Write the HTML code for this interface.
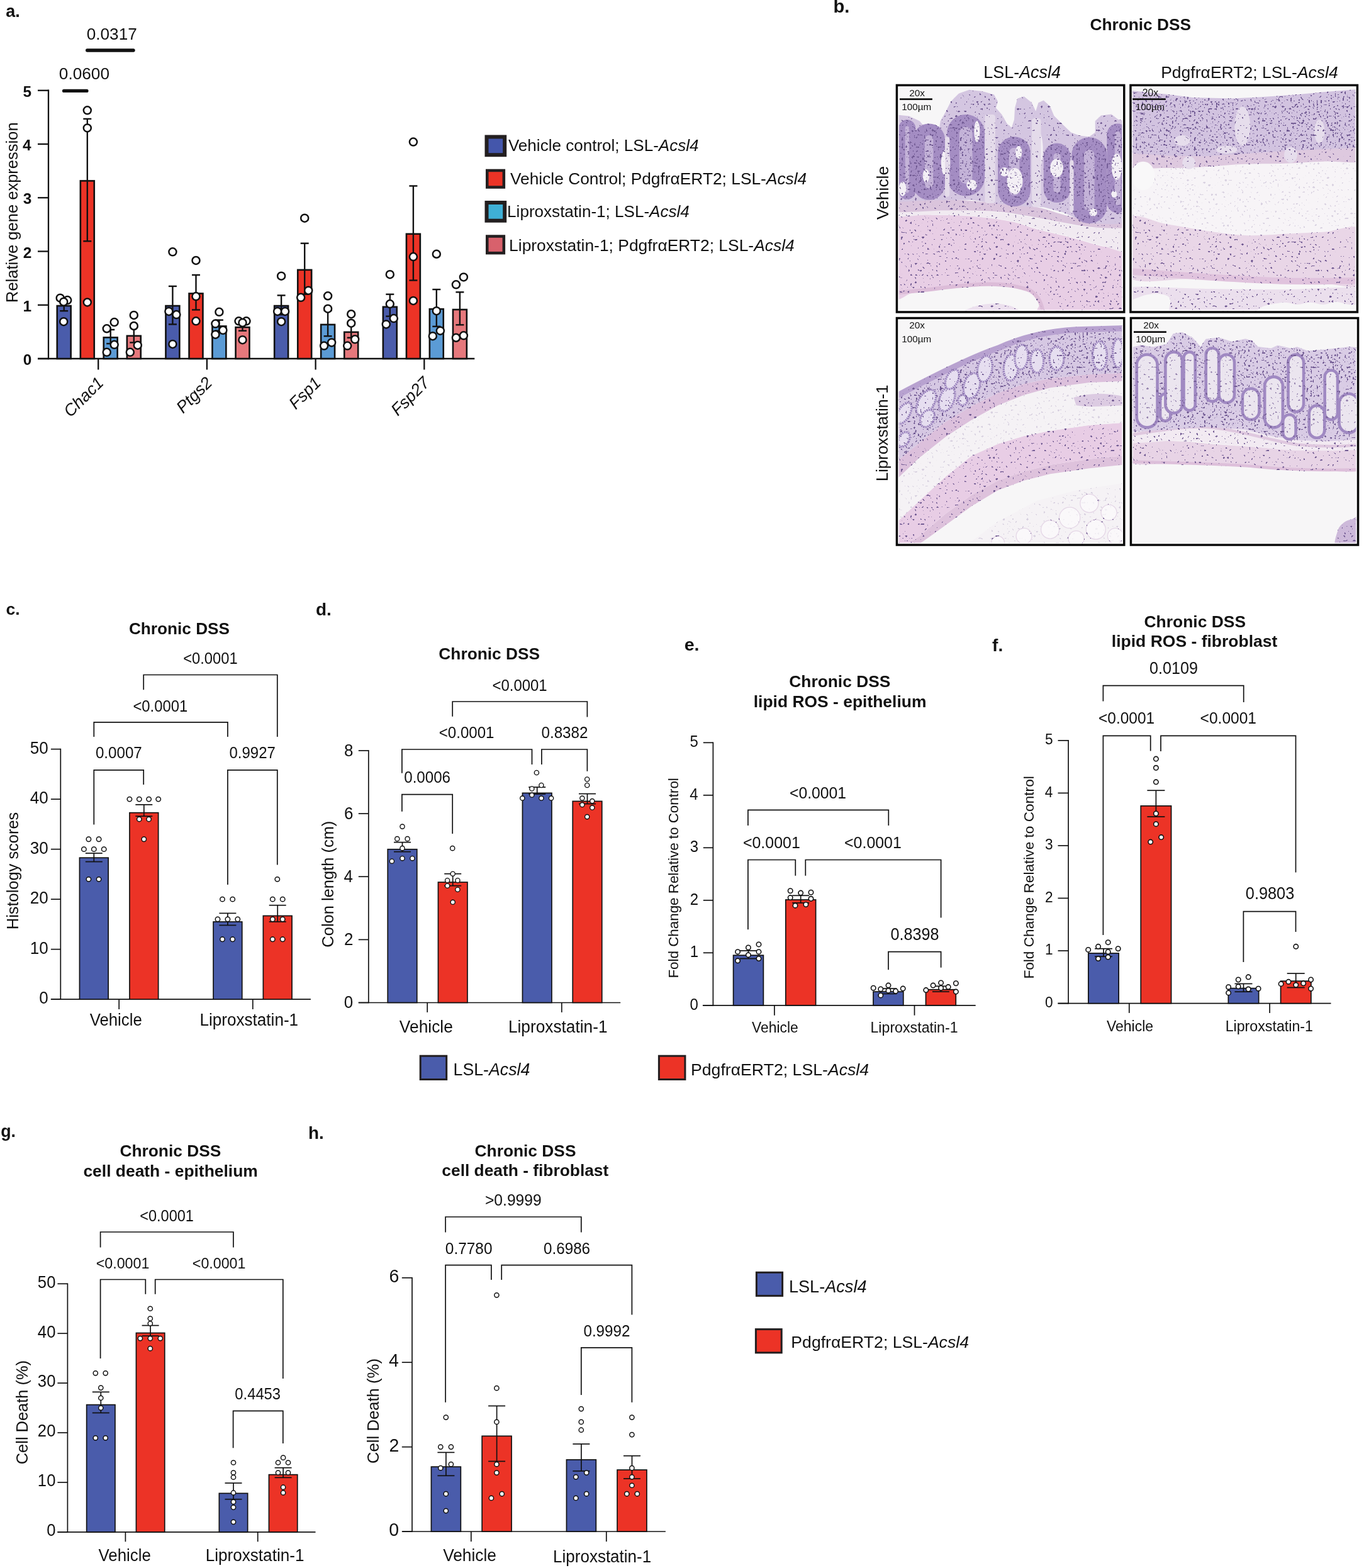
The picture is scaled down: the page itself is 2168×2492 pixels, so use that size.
<!DOCTYPE html>
<html><head><meta charset="utf-8"><style>
html,body{margin:0;padding:0;background:#fff;}
svg{display:block;}
text{font-family:"Liberation Sans",Arial,sans-serif;fill:#111;}
</style></head><body>
<svg width="2168" height="2492" viewBox="0 0 2168 2492">
<rect width="2168" height="2492" fill="#fff"/>
<text x="9.19" y="27.20" font-size="27.03" font-weight="bold">a.</text>
<line x1="60.00" y1="570.00" x2="754.30" y2="570.00" stroke="#111" stroke-width="2.30" stroke-linecap="butt"/>
<line x1="156.20" y1="570.00" x2="156.20" y2="587.50" stroke="#111" stroke-width="2.30" stroke-linecap="butt"/>
<line x1="328.90" y1="570.00" x2="328.90" y2="587.50" stroke="#111" stroke-width="2.30" stroke-linecap="butt"/>
<line x1="501.60" y1="570.00" x2="501.60" y2="587.50" stroke="#111" stroke-width="2.30" stroke-linecap="butt"/>
<line x1="674.30" y1="570.00" x2="674.30" y2="587.50" stroke="#111" stroke-width="2.30" stroke-linecap="butt"/>
<rect x="90.75" y="486.05" width="21.90" height="83.95" fill="#4a5cab" stroke="#111" stroke-width="2.60"/>
<rect x="127.85" y="287.42" width="21.90" height="282.58" fill="#ec3326" stroke="#111" stroke-width="2.60"/>
<rect x="164.75" y="536.35" width="21.90" height="33.65" fill="#5b9bd5" stroke="#111" stroke-width="2.60"/>
<rect x="201.85" y="533.79" width="21.90" height="36.21" fill="#e6787c" stroke="#111" stroke-width="2.60"/>
<line x1="101.70" y1="475.37" x2="101.70" y2="494.13" stroke="#111" stroke-width="2.40" stroke-linecap="butt"/>
<line x1="95.20" y1="475.37" x2="108.20" y2="475.37" stroke="#111" stroke-width="2.40" stroke-linecap="butt"/>
<line x1="95.20" y1="494.13" x2="108.20" y2="494.13" stroke="#111" stroke-width="2.40" stroke-linecap="butt"/>
<circle cx="95.70" cy="473.67" r="6.00" fill="#fff" stroke="#111" stroke-width="2.50"/>
<circle cx="107.20" cy="477.08" r="6.00" fill="#fff" stroke="#111" stroke-width="2.50"/>
<circle cx="101.20" cy="479.63" r="6.00" fill="#fff" stroke="#111" stroke-width="2.50"/>
<circle cx="101.20" cy="511.18" r="6.00" fill="#fff" stroke="#111" stroke-width="2.50"/>
<line x1="138.80" y1="188.93" x2="138.80" y2="383.30" stroke="#111" stroke-width="2.40" stroke-linecap="butt"/>
<line x1="132.30" y1="188.93" x2="145.30" y2="188.93" stroke="#111" stroke-width="2.40" stroke-linecap="butt"/>
<line x1="132.30" y1="383.30" x2="145.30" y2="383.30" stroke="#111" stroke-width="2.40" stroke-linecap="butt"/>
<circle cx="138.80" cy="175.29" r="6.00" fill="#fff" stroke="#111" stroke-width="2.50"/>
<circle cx="138.80" cy="203.43" r="6.00" fill="#fff" stroke="#111" stroke-width="2.50"/>
<circle cx="138.80" cy="480.49" r="6.00" fill="#fff" stroke="#111" stroke-width="2.50"/>
<line x1="175.70" y1="523.97" x2="175.70" y2="546.13" stroke="#111" stroke-width="2.40" stroke-linecap="butt"/>
<line x1="169.20" y1="523.97" x2="182.20" y2="523.97" stroke="#111" stroke-width="2.40" stroke-linecap="butt"/>
<line x1="169.20" y1="546.13" x2="182.20" y2="546.13" stroke="#111" stroke-width="2.40" stroke-linecap="butt"/>
<circle cx="169.70" cy="522.26" r="6.00" fill="#fff" stroke="#111" stroke-width="2.50"/>
<circle cx="181.70" cy="512.03" r="6.00" fill="#fff" stroke="#111" stroke-width="2.50"/>
<circle cx="181.70" cy="547.84" r="6.00" fill="#fff" stroke="#111" stroke-width="2.50"/>
<circle cx="169.70" cy="559.77" r="6.00" fill="#fff" stroke="#111" stroke-width="2.50"/>
<line x1="212.80" y1="519.70" x2="212.80" y2="544.42" stroke="#111" stroke-width="2.40" stroke-linecap="butt"/>
<line x1="206.30" y1="519.70" x2="219.30" y2="519.70" stroke="#111" stroke-width="2.40" stroke-linecap="butt"/>
<line x1="206.30" y1="544.42" x2="219.30" y2="544.42" stroke="#111" stroke-width="2.40" stroke-linecap="butt"/>
<circle cx="212.80" cy="500.95" r="6.00" fill="#fff" stroke="#111" stroke-width="2.50"/>
<circle cx="212.80" cy="518.00" r="6.00" fill="#fff" stroke="#111" stroke-width="2.50"/>
<circle cx="218.80" cy="548.69" r="6.00" fill="#fff" stroke="#111" stroke-width="2.50"/>
<circle cx="206.80" cy="559.77" r="6.00" fill="#fff" stroke="#111" stroke-width="2.50"/>
<rect x="263.45" y="486.05" width="21.90" height="83.95" fill="#4a5cab" stroke="#111" stroke-width="2.60"/>
<rect x="300.55" y="466.44" width="21.90" height="103.56" fill="#ec3326" stroke="#111" stroke-width="2.60"/>
<rect x="337.45" y="518.44" width="21.90" height="51.56" fill="#5b9bd5" stroke="#111" stroke-width="2.60"/>
<rect x="374.55" y="520.15" width="21.90" height="49.85" fill="#e6787c" stroke="#111" stroke-width="2.60"/>
<line x1="274.40" y1="454.91" x2="274.40" y2="515.44" stroke="#111" stroke-width="2.40" stroke-linecap="butt"/>
<line x1="267.90" y1="454.91" x2="280.90" y2="454.91" stroke="#111" stroke-width="2.40" stroke-linecap="butt"/>
<line x1="267.90" y1="515.44" x2="280.90" y2="515.44" stroke="#111" stroke-width="2.40" stroke-linecap="butt"/>
<circle cx="274.40" cy="400.35" r="6.00" fill="#fff" stroke="#111" stroke-width="2.50"/>
<circle cx="268.40" cy="494.98" r="6.00" fill="#fff" stroke="#111" stroke-width="2.50"/>
<circle cx="280.40" cy="500.10" r="6.00" fill="#fff" stroke="#111" stroke-width="2.50"/>
<circle cx="274.40" cy="546.98" r="6.00" fill="#fff" stroke="#111" stroke-width="2.50"/>
<line x1="311.50" y1="437.01" x2="311.50" y2="492.42" stroke="#111" stroke-width="2.40" stroke-linecap="butt"/>
<line x1="305.00" y1="437.01" x2="318.00" y2="437.01" stroke="#111" stroke-width="2.40" stroke-linecap="butt"/>
<line x1="305.00" y1="492.42" x2="318.00" y2="492.42" stroke="#111" stroke-width="2.40" stroke-linecap="butt"/>
<circle cx="311.50" cy="413.99" r="6.00" fill="#fff" stroke="#111" stroke-width="2.50"/>
<circle cx="311.50" cy="471.11" r="6.00" fill="#fff" stroke="#111" stroke-width="2.50"/>
<circle cx="311.50" cy="510.32" r="6.00" fill="#fff" stroke="#111" stroke-width="2.50"/>
<line x1="348.40" y1="508.62" x2="348.40" y2="525.67" stroke="#111" stroke-width="2.40" stroke-linecap="butt"/>
<line x1="341.90" y1="508.62" x2="354.90" y2="508.62" stroke="#111" stroke-width="2.40" stroke-linecap="butt"/>
<line x1="341.90" y1="525.67" x2="354.90" y2="525.67" stroke="#111" stroke-width="2.40" stroke-linecap="butt"/>
<circle cx="348.40" cy="495.83" r="6.00" fill="#fff" stroke="#111" stroke-width="2.50"/>
<circle cx="342.40" cy="514.59" r="6.00" fill="#fff" stroke="#111" stroke-width="2.50"/>
<circle cx="354.40" cy="524.82" r="6.00" fill="#fff" stroke="#111" stroke-width="2.50"/>
<circle cx="342.40" cy="531.64" r="6.00" fill="#fff" stroke="#111" stroke-width="2.50"/>
<line x1="385.50" y1="512.03" x2="385.50" y2="525.67" stroke="#111" stroke-width="2.40" stroke-linecap="butt"/>
<line x1="379.00" y1="512.03" x2="392.00" y2="512.03" stroke="#111" stroke-width="2.40" stroke-linecap="butt"/>
<line x1="379.00" y1="525.67" x2="392.00" y2="525.67" stroke="#111" stroke-width="2.40" stroke-linecap="butt"/>
<circle cx="379.50" cy="510.32" r="6.00" fill="#fff" stroke="#111" stroke-width="2.50"/>
<circle cx="391.50" cy="510.32" r="6.00" fill="#fff" stroke="#111" stroke-width="2.50"/>
<circle cx="385.50" cy="512.88" r="6.00" fill="#fff" stroke="#111" stroke-width="2.50"/>
<circle cx="385.50" cy="540.16" r="6.00" fill="#fff" stroke="#111" stroke-width="2.50"/>
<rect x="436.15" y="486.05" width="21.90" height="83.95" fill="#4a5cab" stroke="#111" stroke-width="2.60"/>
<rect x="473.25" y="428.93" width="21.90" height="141.07" fill="#ec3326" stroke="#111" stroke-width="2.60"/>
<rect x="510.15" y="515.89" width="21.90" height="54.11" fill="#5b9bd5" stroke="#111" stroke-width="2.60"/>
<rect x="547.25" y="527.82" width="21.90" height="42.18" fill="#e6787c" stroke="#111" stroke-width="2.60"/>
<line x1="447.10" y1="469.40" x2="447.10" y2="500.10" stroke="#111" stroke-width="2.40" stroke-linecap="butt"/>
<line x1="440.60" y1="469.40" x2="453.60" y2="469.40" stroke="#111" stroke-width="2.40" stroke-linecap="butt"/>
<line x1="440.60" y1="500.10" x2="453.60" y2="500.10" stroke="#111" stroke-width="2.40" stroke-linecap="butt"/>
<circle cx="447.10" cy="438.72" r="6.00" fill="#fff" stroke="#111" stroke-width="2.50"/>
<circle cx="441.10" cy="494.98" r="6.00" fill="#fff" stroke="#111" stroke-width="2.50"/>
<circle cx="453.10" cy="494.98" r="6.00" fill="#fff" stroke="#111" stroke-width="2.50"/>
<circle cx="447.10" cy="511.18" r="6.00" fill="#fff" stroke="#111" stroke-width="2.50"/>
<line x1="484.20" y1="386.71" x2="484.20" y2="467.70" stroke="#111" stroke-width="2.40" stroke-linecap="butt"/>
<line x1="477.70" y1="386.71" x2="490.70" y2="386.71" stroke="#111" stroke-width="2.40" stroke-linecap="butt"/>
<line x1="477.70" y1="467.70" x2="490.70" y2="467.70" stroke="#111" stroke-width="2.40" stroke-linecap="butt"/>
<circle cx="484.20" cy="346.64" r="6.00" fill="#fff" stroke="#111" stroke-width="2.50"/>
<circle cx="490.20" cy="461.73" r="6.00" fill="#fff" stroke="#111" stroke-width="2.50"/>
<circle cx="478.20" cy="472.81" r="6.00" fill="#fff" stroke="#111" stroke-width="2.50"/>
<line x1="521.10" y1="493.27" x2="521.10" y2="534.20" stroke="#111" stroke-width="2.40" stroke-linecap="butt"/>
<line x1="514.60" y1="493.27" x2="527.60" y2="493.27" stroke="#111" stroke-width="2.40" stroke-linecap="butt"/>
<line x1="514.60" y1="534.20" x2="527.60" y2="534.20" stroke="#111" stroke-width="2.40" stroke-linecap="butt"/>
<circle cx="521.10" cy="470.26" r="6.00" fill="#fff" stroke="#111" stroke-width="2.50"/>
<circle cx="521.10" cy="490.72" r="6.00" fill="#fff" stroke="#111" stroke-width="2.50"/>
<circle cx="527.10" cy="544.42" r="6.00" fill="#fff" stroke="#111" stroke-width="2.50"/>
<circle cx="515.10" cy="549.54" r="6.00" fill="#fff" stroke="#111" stroke-width="2.50"/>
<line x1="558.20" y1="514.59" x2="558.20" y2="536.75" stroke="#111" stroke-width="2.40" stroke-linecap="butt"/>
<line x1="551.70" y1="514.59" x2="564.70" y2="514.59" stroke="#111" stroke-width="2.40" stroke-linecap="butt"/>
<line x1="551.70" y1="536.75" x2="564.70" y2="536.75" stroke="#111" stroke-width="2.40" stroke-linecap="butt"/>
<circle cx="558.20" cy="499.24" r="6.00" fill="#fff" stroke="#111" stroke-width="2.50"/>
<circle cx="558.20" cy="513.74" r="6.00" fill="#fff" stroke="#111" stroke-width="2.50"/>
<circle cx="564.20" cy="539.31" r="6.00" fill="#fff" stroke="#111" stroke-width="2.50"/>
<circle cx="552.20" cy="549.54" r="6.00" fill="#fff" stroke="#111" stroke-width="2.50"/>
<rect x="608.85" y="487.75" width="21.90" height="82.25" fill="#4a5cab" stroke="#111" stroke-width="2.60"/>
<rect x="645.95" y="371.81" width="21.90" height="198.19" fill="#ec3326" stroke="#111" stroke-width="2.60"/>
<rect x="682.85" y="491.17" width="21.90" height="78.83" fill="#5b9bd5" stroke="#111" stroke-width="2.60"/>
<rect x="719.95" y="492.02" width="21.90" height="77.98" fill="#e6787c" stroke="#111" stroke-width="2.60"/>
<line x1="619.80" y1="467.70" x2="619.80" y2="502.65" stroke="#111" stroke-width="2.40" stroke-linecap="butt"/>
<line x1="613.30" y1="467.70" x2="626.30" y2="467.70" stroke="#111" stroke-width="2.40" stroke-linecap="butt"/>
<line x1="613.30" y1="502.65" x2="626.30" y2="502.65" stroke="#111" stroke-width="2.40" stroke-linecap="butt"/>
<circle cx="619.80" cy="436.16" r="6.00" fill="#fff" stroke="#111" stroke-width="2.50"/>
<circle cx="619.80" cy="483.05" r="6.00" fill="#fff" stroke="#111" stroke-width="2.50"/>
<circle cx="625.80" cy="506.06" r="6.00" fill="#fff" stroke="#111" stroke-width="2.50"/>
<circle cx="613.80" cy="515.44" r="6.00" fill="#fff" stroke="#111" stroke-width="2.50"/>
<line x1="656.90" y1="295.50" x2="656.90" y2="445.53" stroke="#111" stroke-width="2.40" stroke-linecap="butt"/>
<line x1="650.40" y1="295.50" x2="663.40" y2="295.50" stroke="#111" stroke-width="2.40" stroke-linecap="butt"/>
<line x1="650.40" y1="445.53" x2="663.40" y2="445.53" stroke="#111" stroke-width="2.40" stroke-linecap="butt"/>
<circle cx="656.90" cy="225.59" r="6.00" fill="#fff" stroke="#111" stroke-width="2.50"/>
<circle cx="656.90" cy="408.02" r="6.00" fill="#fff" stroke="#111" stroke-width="2.50"/>
<circle cx="656.90" cy="477.93" r="6.00" fill="#fff" stroke="#111" stroke-width="2.50"/>
<line x1="693.80" y1="460.03" x2="693.80" y2="518.85" stroke="#111" stroke-width="2.40" stroke-linecap="butt"/>
<line x1="687.30" y1="460.03" x2="700.30" y2="460.03" stroke="#111" stroke-width="2.40" stroke-linecap="butt"/>
<line x1="687.30" y1="518.85" x2="700.30" y2="518.85" stroke="#111" stroke-width="2.40" stroke-linecap="butt"/>
<circle cx="693.80" cy="403.76" r="6.00" fill="#fff" stroke="#111" stroke-width="2.50"/>
<circle cx="693.80" cy="494.13" r="6.00" fill="#fff" stroke="#111" stroke-width="2.50"/>
<circle cx="699.80" cy="525.67" r="6.00" fill="#fff" stroke="#111" stroke-width="2.50"/>
<circle cx="687.80" cy="534.20" r="6.00" fill="#fff" stroke="#111" stroke-width="2.50"/>
<line x1="730.90" y1="464.29" x2="730.90" y2="516.29" stroke="#111" stroke-width="2.40" stroke-linecap="butt"/>
<line x1="724.40" y1="464.29" x2="737.40" y2="464.29" stroke="#111" stroke-width="2.40" stroke-linecap="butt"/>
<line x1="724.40" y1="516.29" x2="737.40" y2="516.29" stroke="#111" stroke-width="2.40" stroke-linecap="butt"/>
<circle cx="736.90" cy="440.42" r="6.00" fill="#fff" stroke="#111" stroke-width="2.50"/>
<circle cx="724.90" cy="452.36" r="6.00" fill="#fff" stroke="#111" stroke-width="2.50"/>
<circle cx="736.90" cy="533.34" r="6.00" fill="#fff" stroke="#111" stroke-width="2.50"/>
<circle cx="724.90" cy="536.75" r="6.00" fill="#fff" stroke="#111" stroke-width="2.50"/>
<line x1="77.00" y1="142.60" x2="77.00" y2="571.15" stroke="#111" stroke-width="2.30" stroke-linecap="butt"/>
<line x1="60.00" y1="570.00" x2="77.00" y2="570.00" stroke="#111" stroke-width="2.30" stroke-linecap="butt"/>
<text x="36.81" y="580.12" font-size="24.40" font-weight="bold">0</text>
<line x1="60.00" y1="484.75" x2="77.00" y2="484.75" stroke="#111" stroke-width="2.30" stroke-linecap="butt"/>
<text x="36.57" y="494.87" font-size="24.40" font-weight="bold">1</text>
<line x1="60.00" y1="399.50" x2="77.00" y2="399.50" stroke="#111" stroke-width="2.30" stroke-linecap="butt"/>
<text x="36.81" y="409.74" font-size="24.40" font-weight="bold">2</text>
<line x1="60.00" y1="314.25" x2="77.00" y2="314.25" stroke="#111" stroke-width="2.30" stroke-linecap="butt"/>
<text x="36.81" y="324.37" font-size="24.40" font-weight="bold">3</text>
<line x1="60.00" y1="229.00" x2="77.00" y2="229.00" stroke="#111" stroke-width="2.30" stroke-linecap="butt"/>
<text x="36.08" y="239.12" font-size="24.40" font-weight="bold">4</text>
<line x1="60.00" y1="143.75" x2="77.00" y2="143.75" stroke="#111" stroke-width="2.30" stroke-linecap="butt"/>
<text x="36.57" y="153.75" font-size="24.40" font-weight="bold">5</text>
<line x1="101.60" y1="144.40" x2="137.90" y2="144.40" stroke="#111" stroke-width="5.40" stroke-linecap="round"/>
<line x1="138.70" y1="80.00" x2="212.00" y2="80.00" stroke="#111" stroke-width="5.40" stroke-linecap="round"/>
<text x="93.85" y="126.00" font-size="26.21">0.0600</text>
<text x="137.75" y="63.00" font-size="26.16">0.0317</text>
<text transform="translate(27.99 481.04) rotate(-90)" x="0" y="0" font-size="25.54">Relative gene expression</text>
<text transform="translate(166.20 610) rotate(-45)" x="0" y="0" font-size="26.5" font-style="italic" text-anchor="end">Chac1</text>
<text transform="translate(338.90 610) rotate(-45)" x="0" y="0" font-size="26.5" font-style="italic" text-anchor="end">Ptgs2</text>
<text transform="translate(511.60 610) rotate(-45)" x="0" y="0" font-size="26.5" font-style="italic" text-anchor="end">Fsp1</text>
<text transform="translate(684.30 610) rotate(-45)" x="0" y="0" font-size="26.5" font-style="italic" text-anchor="end">Fsp27</text>
<rect x="773.50" y="217.50" width="28.70" height="28.70" fill="#4456ab" stroke="#231f20" stroke-width="6.00"/>
<text x="807.94" y="240.00" font-size="26.05">Vehicle control; LSL-<tspan font-style="italic">Acsl4</tspan></text>
<rect x="774.25" y="270.95" width="26.60" height="26.60" fill="#ec3326" stroke="#231f20" stroke-width="4.50"/>
<text x="810.94" y="293.40" font-size="26.34">Vehicle Control; PdgfrαERT2; LSL-<tspan font-style="italic">Acsl4</tspan></text>
<rect x="773.50" y="322.00" width="28.70" height="28.70" fill="#3fb0d6" stroke="#231f20" stroke-width="6.00"/>
<text x="806.11" y="344.60" font-size="26.07">Liproxstatin-1; LSL-<tspan font-style="italic">Acsl4</tspan></text>
<rect x="774.25" y="375.55" width="26.60" height="26.60" fill="#d8616c" stroke="#231f20" stroke-width="4.50"/>
<text x="809.09" y="398.90" font-size="26.41">Liproxstatin-1; PdgfrαERT2; LSL-<tspan font-style="italic">Acsl4</tspan></text>
<line x1="80.90" y1="1588.20" x2="493.90" y2="1588.20" stroke="#111" stroke-width="1.70" stroke-linecap="butt"/>
<line x1="189.20" y1="1588.20" x2="189.20" y2="1604.00" stroke="#111" stroke-width="1.70" stroke-linecap="butt"/>
<line x1="401.80" y1="1588.20" x2="401.80" y2="1604.00" stroke="#111" stroke-width="1.70" stroke-linecap="butt"/>
<rect x="126.45" y="1363.21" width="45.70" height="224.99" fill="#4a5cab" stroke="#111" stroke-width="1.70"/>
<rect x="205.95" y="1291.65" width="45.70" height="296.55" fill="#ec3326" stroke="#111" stroke-width="1.70"/>
<rect x="339.05" y="1465.00" width="45.70" height="123.20" fill="#4a5cab" stroke="#111" stroke-width="1.70"/>
<rect x="418.35" y="1455.46" width="45.70" height="132.74" fill="#ec3326" stroke="#111" stroke-width="1.70"/>
<line x1="149.30" y1="1356.00" x2="149.30" y2="1369.52" stroke="#111" stroke-width="1.70" stroke-linecap="butt"/>
<line x1="135.80" y1="1356.00" x2="162.80" y2="1356.00" stroke="#111" stroke-width="1.70" stroke-linecap="butt"/>
<line x1="135.80" y1="1369.52" x2="162.80" y2="1369.52" stroke="#111" stroke-width="1.70" stroke-linecap="butt"/>
<line x1="228.80" y1="1278.87" x2="228.80" y2="1297.16" stroke="#111" stroke-width="1.70" stroke-linecap="butt"/>
<line x1="215.30" y1="1278.87" x2="242.30" y2="1278.87" stroke="#111" stroke-width="1.70" stroke-linecap="butt"/>
<line x1="215.30" y1="1297.16" x2="242.30" y2="1297.16" stroke="#111" stroke-width="1.70" stroke-linecap="butt"/>
<line x1="361.90" y1="1451.43" x2="361.90" y2="1470.51" stroke="#111" stroke-width="1.70" stroke-linecap="butt"/>
<line x1="348.40" y1="1451.43" x2="375.40" y2="1451.43" stroke="#111" stroke-width="1.70" stroke-linecap="butt"/>
<line x1="348.40" y1="1470.51" x2="375.40" y2="1470.51" stroke="#111" stroke-width="1.70" stroke-linecap="butt"/>
<line x1="441.20" y1="1438.70" x2="441.20" y2="1464.94" stroke="#111" stroke-width="1.70" stroke-linecap="butt"/>
<line x1="427.70" y1="1438.70" x2="454.70" y2="1438.70" stroke="#111" stroke-width="1.70" stroke-linecap="butt"/>
<line x1="427.70" y1="1464.94" x2="454.70" y2="1464.94" stroke="#111" stroke-width="1.70" stroke-linecap="butt"/>
<circle cx="140.90" cy="1333.74" r="3.70" fill="#fff" stroke="#111" stroke-width="1.50"/>
<circle cx="157.10" cy="1333.74" r="3.70" fill="#fff" stroke="#111" stroke-width="1.50"/>
<circle cx="133.40" cy="1349.64" r="3.70" fill="#fff" stroke="#111" stroke-width="1.50"/>
<circle cx="149.30" cy="1349.64" r="3.70" fill="#fff" stroke="#111" stroke-width="1.50"/>
<circle cx="165.20" cy="1349.64" r="3.70" fill="#fff" stroke="#111" stroke-width="1.50"/>
<circle cx="140.90" cy="1397.35" r="3.70" fill="#fff" stroke="#111" stroke-width="1.50"/>
<circle cx="157.10" cy="1397.35" r="3.70" fill="#fff" stroke="#111" stroke-width="1.50"/>
<circle cx="205.90" cy="1270.12" r="3.70" fill="#fff" stroke="#111" stroke-width="1.50"/>
<circle cx="221.30" cy="1270.12" r="3.70" fill="#fff" stroke="#111" stroke-width="1.50"/>
<circle cx="236.60" cy="1270.12" r="3.70" fill="#fff" stroke="#111" stroke-width="1.50"/>
<circle cx="251.70" cy="1270.12" r="3.70" fill="#fff" stroke="#111" stroke-width="1.50"/>
<circle cx="221.30" cy="1301.93" r="3.70" fill="#fff" stroke="#111" stroke-width="1.50"/>
<circle cx="236.60" cy="1301.93" r="3.70" fill="#fff" stroke="#111" stroke-width="1.50"/>
<circle cx="228.80" cy="1333.74" r="3.70" fill="#fff" stroke="#111" stroke-width="1.50"/>
<circle cx="353.50" cy="1429.16" r="3.70" fill="#fff" stroke="#111" stroke-width="1.50"/>
<circle cx="369.70" cy="1429.16" r="3.70" fill="#fff" stroke="#111" stroke-width="1.50"/>
<circle cx="346.00" cy="1460.97" r="3.70" fill="#fff" stroke="#111" stroke-width="1.50"/>
<circle cx="361.90" cy="1460.97" r="3.70" fill="#fff" stroke="#111" stroke-width="1.50"/>
<circle cx="377.80" cy="1460.97" r="3.70" fill="#fff" stroke="#111" stroke-width="1.50"/>
<circle cx="353.50" cy="1492.78" r="3.70" fill="#fff" stroke="#111" stroke-width="1.50"/>
<circle cx="369.70" cy="1492.78" r="3.70" fill="#fff" stroke="#111" stroke-width="1.50"/>
<circle cx="440.80" cy="1397.35" r="3.70" fill="#fff" stroke="#111" stroke-width="1.50"/>
<circle cx="433.30" cy="1429.16" r="3.70" fill="#fff" stroke="#111" stroke-width="1.50"/>
<circle cx="449.20" cy="1429.16" r="3.70" fill="#fff" stroke="#111" stroke-width="1.50"/>
<circle cx="433.30" cy="1460.97" r="3.70" fill="#fff" stroke="#111" stroke-width="1.50"/>
<circle cx="449.20" cy="1460.97" r="3.70" fill="#fff" stroke="#111" stroke-width="1.50"/>
<circle cx="433.30" cy="1492.78" r="3.70" fill="#fff" stroke="#111" stroke-width="1.50"/>
<circle cx="449.20" cy="1492.78" r="3.70" fill="#fff" stroke="#111" stroke-width="1.50"/>
<line x1="96.30" y1="1189.75" x2="96.30" y2="1589.05" stroke="#111" stroke-width="1.70" stroke-linecap="butt"/>
<line x1="80.90" y1="1588.20" x2="96.30" y2="1588.20" stroke="#111" stroke-width="1.70" stroke-linecap="butt"/>
<text transform="translate(62.35 1595.37) scale(1 1.0650)" x="0" y="0" font-size="26.06">0</text>
<line x1="80.90" y1="1508.68" x2="96.30" y2="1508.68" stroke="#111" stroke-width="1.70" stroke-linecap="butt"/>
<text transform="translate(47.76 1515.85) scale(1 1.0650)" x="0" y="0" font-size="26.06">10</text>
<line x1="80.90" y1="1429.16" x2="96.30" y2="1429.16" stroke="#111" stroke-width="1.70" stroke-linecap="butt"/>
<text transform="translate(47.76 1436.33) scale(1 1.0650)" x="0" y="0" font-size="26.06">20</text>
<line x1="80.90" y1="1349.64" x2="96.30" y2="1349.64" stroke="#111" stroke-width="1.70" stroke-linecap="butt"/>
<text transform="translate(47.76 1356.81) scale(1 1.0650)" x="0" y="0" font-size="26.06">30</text>
<line x1="80.90" y1="1270.12" x2="96.30" y2="1270.12" stroke="#111" stroke-width="1.70" stroke-linecap="butt"/>
<text transform="translate(47.76 1277.29) scale(1 1.0650)" x="0" y="0" font-size="26.06">40</text>
<line x1="80.90" y1="1190.60" x2="96.30" y2="1190.60" stroke="#111" stroke-width="1.70" stroke-linecap="butt"/>
<text transform="translate(47.76 1197.77) scale(1 1.0650)" x="0" y="0" font-size="26.06">50</text>
<polyline points="228.20,1096.30 228.20,1072.50 440.80,1072.50 440.80,1171.00" fill="none" stroke="#111" stroke-width="1.70" stroke-linejoin="miter"/>
<text transform="translate(291.21 1055.20) scale(1 1.0650)" x="0" y="0" font-size="23.75">&lt;0.0001</text>
<polyline points="149.30,1171.00 149.30,1147.90 361.90,1147.90 361.90,1171.00" fill="none" stroke="#111" stroke-width="1.70" stroke-linejoin="miter"/>
<text transform="translate(211.41 1130.50) scale(1 1.0650)" x="0" y="0" font-size="23.83">&lt;0.0001</text>
<polyline points="149.30,1310.60 149.30,1223.80 228.20,1223.80 228.20,1247.00" fill="none" stroke="#111" stroke-width="1.70" stroke-linejoin="miter"/>
<text transform="translate(151.93 1204.50) scale(1 1.0650)" x="0" y="0" font-size="24.14">0.0007</text>
<polyline points="361.90,1406.00 361.90,1223.80 440.80,1223.80 440.80,1374.50" fill="none" stroke="#111" stroke-width="1.70" stroke-linejoin="miter"/>
<text transform="translate(364.54 1204.50) scale(1 1.0650)" x="0" y="0" font-size="23.97">0.9927</text>
<text x="204.95" y="1008.40" font-size="26.20" font-weight="bold">Chronic DSS</text>
<text x="9.54" y="977.00" font-size="26.58" font-weight="bold">c.</text>
<text transform="translate(28.91 1477.23) rotate(-90)" x="0" y="0" font-size="25.43">Histology scores</text>
<text transform="translate(142.64 1629.80) scale(1 1.0650)" x="0" y="0" font-size="25.77">Vehicle</text>
<text transform="translate(317.41 1629.80) scale(1 1.0650)" x="0" y="0" font-size="26.11">Liproxstatin-1</text>
<line x1="569.80" y1="1593.50" x2="986.20" y2="1593.50" stroke="#111" stroke-width="1.70" stroke-linecap="butt"/>
<line x1="679.20" y1="1593.50" x2="679.20" y2="1608.90" stroke="#111" stroke-width="1.70" stroke-linecap="butt"/>
<line x1="892.80" y1="1593.50" x2="892.80" y2="1608.90" stroke="#111" stroke-width="1.70" stroke-linecap="butt"/>
<rect x="616.25" y="1349.76" width="46.50" height="243.74" fill="#4a5cab" stroke="#111" stroke-width="1.70"/>
<rect x="696.45" y="1402.08" width="46.50" height="191.42" fill="#ec3326" stroke="#111" stroke-width="1.70"/>
<rect x="830.45" y="1260.38" width="46.50" height="333.12" fill="#4a5cab" stroke="#111" stroke-width="1.70"/>
<rect x="910.25" y="1273.40" width="46.50" height="320.10" fill="#ec3326" stroke="#111" stroke-width="1.70"/>
<line x1="639.50" y1="1338.64" x2="639.50" y2="1353.66" stroke="#111" stroke-width="1.70" stroke-linecap="butt"/>
<line x1="626.00" y1="1338.64" x2="653.00" y2="1338.64" stroke="#111" stroke-width="1.70" stroke-linecap="butt"/>
<line x1="626.00" y1="1353.66" x2="653.00" y2="1353.66" stroke="#111" stroke-width="1.70" stroke-linecap="butt"/>
<line x1="719.70" y1="1388.71" x2="719.70" y2="1407.74" stroke="#111" stroke-width="1.70" stroke-linecap="butt"/>
<line x1="706.20" y1="1388.71" x2="733.20" y2="1388.71" stroke="#111" stroke-width="1.70" stroke-linecap="butt"/>
<line x1="706.20" y1="1407.74" x2="733.20" y2="1407.74" stroke="#111" stroke-width="1.70" stroke-linecap="butt"/>
<line x1="853.70" y1="1251.02" x2="853.70" y2="1262.04" stroke="#111" stroke-width="1.70" stroke-linecap="butt"/>
<line x1="840.20" y1="1251.02" x2="867.20" y2="1251.02" stroke="#111" stroke-width="1.70" stroke-linecap="butt"/>
<line x1="840.20" y1="1262.04" x2="867.20" y2="1262.04" stroke="#111" stroke-width="1.70" stroke-linecap="butt"/>
<line x1="933.50" y1="1261.54" x2="933.50" y2="1277.56" stroke="#111" stroke-width="1.70" stroke-linecap="butt"/>
<line x1="920.00" y1="1261.54" x2="947.00" y2="1261.54" stroke="#111" stroke-width="1.70" stroke-linecap="butt"/>
<line x1="920.00" y1="1277.56" x2="947.00" y2="1277.56" stroke="#111" stroke-width="1.70" stroke-linecap="butt"/>
<circle cx="639.50" cy="1313.61" r="3.60" fill="#fff" stroke="#111" stroke-width="1.40"/>
<circle cx="631.30" cy="1333.14" r="3.60" fill="#fff" stroke="#111" stroke-width="1.40"/>
<circle cx="647.60" cy="1333.14" r="3.60" fill="#fff" stroke="#111" stroke-width="1.40"/>
<circle cx="639.50" cy="1348.16" r="3.60" fill="#fff" stroke="#111" stroke-width="1.40"/>
<circle cx="622.90" cy="1368.69" r="3.60" fill="#fff" stroke="#111" stroke-width="1.40"/>
<circle cx="639.50" cy="1364.18" r="3.60" fill="#fff" stroke="#111" stroke-width="1.40"/>
<circle cx="655.40" cy="1364.18" r="3.60" fill="#fff" stroke="#111" stroke-width="1.40"/>
<circle cx="719.20" cy="1348.16" r="3.60" fill="#fff" stroke="#111" stroke-width="1.40"/>
<circle cx="719.70" cy="1388.71" r="3.60" fill="#fff" stroke="#111" stroke-width="1.40"/>
<circle cx="711.10" cy="1399.23" r="3.60" fill="#fff" stroke="#111" stroke-width="1.40"/>
<circle cx="727.40" cy="1399.23" r="3.60" fill="#fff" stroke="#111" stroke-width="1.40"/>
<circle cx="711.10" cy="1407.74" r="3.60" fill="#fff" stroke="#111" stroke-width="1.40"/>
<circle cx="727.40" cy="1413.75" r="3.60" fill="#fff" stroke="#111" stroke-width="1.40"/>
<circle cx="719.70" cy="1433.78" r="3.60" fill="#fff" stroke="#111" stroke-width="1.40"/>
<circle cx="852.90" cy="1227.99" r="3.60" fill="#fff" stroke="#111" stroke-width="1.40"/>
<circle cx="860.40" cy="1248.02" r="3.60" fill="#fff" stroke="#111" stroke-width="1.40"/>
<circle cx="845.40" cy="1253.52" r="3.60" fill="#fff" stroke="#111" stroke-width="1.40"/>
<circle cx="845.40" cy="1263.54" r="3.60" fill="#fff" stroke="#111" stroke-width="1.40"/>
<circle cx="830.30" cy="1268.55" r="3.60" fill="#fff" stroke="#111" stroke-width="1.40"/>
<circle cx="860.40" cy="1268.55" r="3.60" fill="#fff" stroke="#111" stroke-width="1.40"/>
<circle cx="876.10" cy="1268.55" r="3.60" fill="#fff" stroke="#111" stroke-width="1.40"/>
<circle cx="933.20" cy="1238.50" r="3.60" fill="#fff" stroke="#111" stroke-width="1.40"/>
<circle cx="933.20" cy="1248.02" r="3.60" fill="#fff" stroke="#111" stroke-width="1.40"/>
<circle cx="925.40" cy="1268.55" r="3.60" fill="#fff" stroke="#111" stroke-width="1.40"/>
<circle cx="941.30" cy="1273.05" r="3.60" fill="#fff" stroke="#111" stroke-width="1.40"/>
<circle cx="925.40" cy="1279.06" r="3.60" fill="#fff" stroke="#111" stroke-width="1.40"/>
<circle cx="941.30" cy="1283.57" r="3.60" fill="#fff" stroke="#111" stroke-width="1.40"/>
<circle cx="933.20" cy="1298.09" r="3.60" fill="#fff" stroke="#111" stroke-width="1.40"/>
<line x1="585.80" y1="1192.09" x2="585.80" y2="1594.35" stroke="#111" stroke-width="1.70" stroke-linecap="butt"/>
<line x1="569.80" y1="1593.50" x2="585.80" y2="1593.50" stroke="#111" stroke-width="1.70" stroke-linecap="butt"/>
<text transform="translate(546.70 1602.44) scale(1 1.0650)" x="0" y="0" font-size="25.96">0</text>
<line x1="569.80" y1="1493.36" x2="585.80" y2="1493.36" stroke="#111" stroke-width="1.70" stroke-linecap="butt"/>
<text transform="translate(546.96 1502.44) scale(1 1.0650)" x="0" y="0" font-size="25.96">2</text>
<line x1="569.80" y1="1393.22" x2="585.80" y2="1393.22" stroke="#111" stroke-width="1.70" stroke-linecap="butt"/>
<text transform="translate(546.44 1402.16) scale(1 1.0650)" x="0" y="0" font-size="25.96">4</text>
<line x1="569.80" y1="1293.08" x2="585.80" y2="1293.08" stroke="#111" stroke-width="1.70" stroke-linecap="butt"/>
<text transform="translate(546.96 1302.02) scale(1 1.0650)" x="0" y="0" font-size="25.96">6</text>
<line x1="569.80" y1="1192.94" x2="585.80" y2="1192.94" stroke="#111" stroke-width="1.70" stroke-linecap="butt"/>
<text transform="translate(546.96 1201.88) scale(1 1.0650)" x="0" y="0" font-size="25.96">8</text>
<polyline points="719.20,1138.80 719.20,1115.00 933.40,1115.00 933.40,1139.60" fill="none" stroke="#111" stroke-width="1.70" stroke-linejoin="miter"/>
<text transform="translate(782.50 1097.50) scale(1 1.0650)" x="0" y="0" font-size="23.94">&lt;0.0001</text>
<polyline points="638.90,1228.70 638.90,1191.00 845.50,1191.00 845.50,1215.00" fill="none" stroke="#111" stroke-width="1.70" stroke-linejoin="miter"/>
<text transform="translate(697.80 1173.00) scale(1 1.0650)" x="0" y="0" font-size="24.08">&lt;0.0001</text>
<polyline points="860.90,1215.00 860.90,1191.00 933.40,1191.00 933.40,1225.80" fill="none" stroke="#111" stroke-width="1.70" stroke-linejoin="miter"/>
<text transform="translate(860.43 1173.00) scale(1 1.0650)" x="0" y="0" font-size="24.24">0.8382</text>
<polyline points="638.90,1289.70 638.90,1262.70 719.20,1262.70 719.20,1325.10" fill="none" stroke="#111" stroke-width="1.70" stroke-linejoin="miter"/>
<text transform="translate(642.23 1244.10) scale(1 1.0650)" x="0" y="0" font-size="24.14">0.0006</text>
<text x="697.35" y="1048.00" font-size="26.30" font-weight="bold">Chronic DSS</text>
<text x="501.88" y="977.70" font-size="27.95" font-weight="bold">d.</text>
<text transform="translate(530.14 1505.67) rotate(-90)" x="0" y="0" font-size="25.48">Colon length (cm)</text>
<text transform="translate(634.84 1641.40) scale(1 1.0650)" x="0" y="0" font-size="26.37">Vehicle</text>
<text transform="translate(807.90 1641.40) scale(1 1.0650)" x="0" y="0" font-size="26.28">Liproxstatin-1</text>
<line x1="1116.90" y1="1597.80" x2="1550.70" y2="1597.80" stroke="#111" stroke-width="1.70" stroke-linecap="butt"/>
<line x1="1230.90" y1="1597.80" x2="1230.90" y2="1613.70" stroke="#111" stroke-width="1.70" stroke-linecap="butt"/>
<line x1="1453.50" y1="1597.80" x2="1453.50" y2="1613.70" stroke="#111" stroke-width="1.70" stroke-linecap="butt"/>
<rect x="1165.60" y="1518.24" width="47.80" height="79.56" fill="#4a5cab" stroke="#111" stroke-width="1.70"/>
<rect x="1248.80" y="1429.98" width="47.80" height="167.82" fill="#ec3326" stroke="#111" stroke-width="1.70"/>
<rect x="1388.00" y="1576.10" width="47.80" height="21.70" fill="#4a5cab" stroke="#111" stroke-width="1.70"/>
<rect x="1471.50" y="1572.76" width="47.80" height="25.04" fill="#ec3326" stroke="#111" stroke-width="1.70"/>
<line x1="1189.50" y1="1510.96" x2="1189.50" y2="1523.48" stroke="#111" stroke-width="1.70" stroke-linecap="butt"/>
<line x1="1176.00" y1="1510.96" x2="1203.00" y2="1510.96" stroke="#111" stroke-width="1.70" stroke-linecap="butt"/>
<line x1="1176.00" y1="1523.48" x2="1203.00" y2="1523.48" stroke="#111" stroke-width="1.70" stroke-linecap="butt"/>
<line x1="1272.70" y1="1423.28" x2="1272.70" y2="1434.97" stroke="#111" stroke-width="1.70" stroke-linecap="butt"/>
<line x1="1259.20" y1="1423.28" x2="1286.20" y2="1423.28" stroke="#111" stroke-width="1.70" stroke-linecap="butt"/>
<line x1="1259.20" y1="1434.97" x2="1286.20" y2="1434.97" stroke="#111" stroke-width="1.70" stroke-linecap="butt"/>
<line x1="1411.90" y1="1571.08" x2="1411.90" y2="1579.43" stroke="#111" stroke-width="1.70" stroke-linecap="butt"/>
<line x1="1398.40" y1="1571.08" x2="1425.40" y2="1571.08" stroke="#111" stroke-width="1.70" stroke-linecap="butt"/>
<line x1="1398.40" y1="1579.43" x2="1425.40" y2="1579.43" stroke="#111" stroke-width="1.70" stroke-linecap="butt"/>
<line x1="1495.40" y1="1567.32" x2="1495.40" y2="1576.09" stroke="#111" stroke-width="1.70" stroke-linecap="butt"/>
<line x1="1481.90" y1="1567.32" x2="1508.90" y2="1567.32" stroke="#111" stroke-width="1.70" stroke-linecap="butt"/>
<line x1="1481.90" y1="1576.09" x2="1508.90" y2="1576.09" stroke="#111" stroke-width="1.70" stroke-linecap="butt"/>
<circle cx="1172.60" cy="1512.63" r="3.70" fill="#fff" stroke="#111" stroke-width="1.60"/>
<circle cx="1189.40" cy="1505.95" r="3.70" fill="#fff" stroke="#111" stroke-width="1.60"/>
<circle cx="1206.00" cy="1500.94" r="3.70" fill="#fff" stroke="#111" stroke-width="1.60"/>
<circle cx="1206.00" cy="1512.63" r="3.70" fill="#fff" stroke="#111" stroke-width="1.60"/>
<circle cx="1189.40" cy="1517.64" r="3.70" fill="#fff" stroke="#111" stroke-width="1.60"/>
<circle cx="1172.60" cy="1526.83" r="3.70" fill="#fff" stroke="#111" stroke-width="1.60"/>
<circle cx="1206.00" cy="1523.48" r="3.70" fill="#fff" stroke="#111" stroke-width="1.60"/>
<circle cx="1256.20" cy="1415.77" r="3.70" fill="#fff" stroke="#111" stroke-width="1.60"/>
<circle cx="1272.70" cy="1419.11" r="3.70" fill="#fff" stroke="#111" stroke-width="1.60"/>
<circle cx="1289.00" cy="1418.27" r="3.70" fill="#fff" stroke="#111" stroke-width="1.60"/>
<circle cx="1256.20" cy="1426.62" r="3.70" fill="#fff" stroke="#111" stroke-width="1.60"/>
<circle cx="1289.00" cy="1428.30" r="3.70" fill="#fff" stroke="#111" stroke-width="1.60"/>
<circle cx="1264.00" cy="1439.15" r="3.70" fill="#fff" stroke="#111" stroke-width="1.60"/>
<circle cx="1280.90" cy="1437.48" r="3.70" fill="#fff" stroke="#111" stroke-width="1.60"/>
<circle cx="1388.20" cy="1570.24" r="3.70" fill="#fff" stroke="#111" stroke-width="1.60"/>
<circle cx="1399.80" cy="1571.91" r="3.70" fill="#fff" stroke="#111" stroke-width="1.60"/>
<circle cx="1412.00" cy="1566.07" r="3.70" fill="#fff" stroke="#111" stroke-width="1.60"/>
<circle cx="1412.00" cy="1574.42" r="3.70" fill="#fff" stroke="#111" stroke-width="1.60"/>
<circle cx="1423.60" cy="1575.25" r="3.70" fill="#fff" stroke="#111" stroke-width="1.60"/>
<circle cx="1435.20" cy="1571.08" r="3.70" fill="#fff" stroke="#111" stroke-width="1.60"/>
<circle cx="1399.80" cy="1581.93" r="3.70" fill="#fff" stroke="#111" stroke-width="1.60"/>
<circle cx="1471.80" cy="1573.59" r="3.70" fill="#fff" stroke="#111" stroke-width="1.60"/>
<circle cx="1483.10" cy="1566.07" r="3.70" fill="#fff" stroke="#111" stroke-width="1.60"/>
<circle cx="1495.60" cy="1561.89" r="3.70" fill="#fff" stroke="#111" stroke-width="1.60"/>
<circle cx="1495.60" cy="1570.24" r="3.70" fill="#fff" stroke="#111" stroke-width="1.60"/>
<circle cx="1507.20" cy="1568.58" r="3.70" fill="#fff" stroke="#111" stroke-width="1.60"/>
<circle cx="1519.40" cy="1562.73" r="3.70" fill="#fff" stroke="#111" stroke-width="1.60"/>
<circle cx="1519.40" cy="1576.09" r="3.70" fill="#fff" stroke="#111" stroke-width="1.60"/>
<line x1="1133.40" y1="1179.45" x2="1133.40" y2="1598.65" stroke="#111" stroke-width="1.70" stroke-linecap="butt"/>
<line x1="1117.80" y1="1597.80" x2="1133.40" y2="1597.80" stroke="#111" stroke-width="1.70" stroke-linecap="butt"/>
<text transform="translate(1096.54 1604.50) scale(1 1.0650)" x="0" y="0" font-size="23.96">0</text>
<line x1="1117.80" y1="1514.30" x2="1133.40" y2="1514.30" stroke="#111" stroke-width="1.70" stroke-linecap="butt"/>
<text transform="translate(1096.78 1521.00) scale(1 1.0650)" x="0" y="0" font-size="23.96">1</text>
<line x1="1117.80" y1="1430.80" x2="1133.40" y2="1430.80" stroke="#111" stroke-width="1.70" stroke-linecap="butt"/>
<text transform="translate(1096.78 1437.63) scale(1 1.0650)" x="0" y="0" font-size="23.96">2</text>
<line x1="1117.80" y1="1347.30" x2="1133.40" y2="1347.30" stroke="#111" stroke-width="1.70" stroke-linecap="butt"/>
<text transform="translate(1096.78 1354.00) scale(1 1.0650)" x="0" y="0" font-size="23.96">3</text>
<line x1="1117.80" y1="1263.80" x2="1133.40" y2="1263.80" stroke="#111" stroke-width="1.70" stroke-linecap="butt"/>
<text transform="translate(1096.30 1270.50) scale(1 1.0650)" x="0" y="0" font-size="23.96">4</text>
<line x1="1117.80" y1="1180.30" x2="1133.40" y2="1180.30" stroke="#111" stroke-width="1.70" stroke-linecap="butt"/>
<text transform="translate(1096.54 1186.88) scale(1 1.0650)" x="0" y="0" font-size="23.96">5</text>
<polyline points="1188.90,1312.10 1188.90,1287.40 1412.30,1287.40 1412.30,1312.10" fill="none" stroke="#111" stroke-width="1.70" stroke-linejoin="miter"/>
<text transform="translate(1254.96 1269.40) scale(1 1.0650)" x="0" y="0" font-size="24.76">&lt;0.0001</text>
<polyline points="1188.90,1477.30 1188.90,1366.50 1264.30,1366.50 1264.30,1391.70" fill="none" stroke="#111" stroke-width="1.70" stroke-linejoin="miter"/>
<text transform="translate(1180.95 1347.50) scale(1 1.0650)" x="0" y="0" font-size="24.93">&lt;0.0001</text>
<polyline points="1280.30,1391.70 1280.30,1366.50 1495.60,1366.50 1495.60,1458.50" fill="none" stroke="#111" stroke-width="1.70" stroke-linejoin="miter"/>
<text transform="translate(1342.05 1347.50) scale(1 1.0650)" x="0" y="0" font-size="24.93">&lt;0.0001</text>
<polyline points="1412.00,1541.20 1412.00,1512.70 1495.60,1512.70 1495.60,1537.70" fill="none" stroke="#111" stroke-width="1.70" stroke-linejoin="miter"/>
<text transform="translate(1415.39 1494.10) scale(1 1.0650)" x="0" y="0" font-size="25.19">0.8398</text>
<text x="1254.25" y="1092.10" font-size="26.37" font-weight="bold">Chronic DSS</text>
<text x="1197.75" y="1124.00" font-size="26.44" font-weight="bold">lipid ROS - epithelium</text>
<text x="1087.66" y="1033.50" font-size="28.49" font-weight="bold">e.</text>
<text transform="translate(1078.42 1554.59) rotate(-90)" x="0" y="0" font-size="22.39">Fold Change Relative to Control</text>
<text transform="translate(1195.07 1641.30) scale(1 1.0650)" x="0" y="0" font-size="22.87">Vehicle</text>
<text transform="translate(1383.44 1641.30) scale(1 1.0650)" x="0" y="0" font-size="23.20">Liproxstatin-1</text>
<line x1="1681.50" y1="1594.60" x2="2115.50" y2="1594.60" stroke="#111" stroke-width="1.70" stroke-linecap="butt"/>
<line x1="1794.80" y1="1594.60" x2="1794.80" y2="1609.90" stroke="#111" stroke-width="1.70" stroke-linecap="butt"/>
<line x1="2018.10" y1="1594.60" x2="2018.10" y2="1609.90" stroke="#111" stroke-width="1.70" stroke-linecap="butt"/>
<rect x="1729.85" y="1514.99" width="48.30" height="79.61" fill="#4a5cab" stroke="#111" stroke-width="1.70"/>
<rect x="1813.25" y="1280.80" width="48.30" height="313.80" fill="#ec3326" stroke="#111" stroke-width="1.70"/>
<rect x="1952.35" y="1570.64" width="48.30" height="23.96" fill="#4a5cab" stroke="#111" stroke-width="1.70"/>
<rect x="2035.55" y="1559.19" width="48.30" height="35.41" fill="#ec3326" stroke="#111" stroke-width="1.70"/>
<line x1="1754.00" y1="1507.71" x2="1754.00" y2="1520.24" stroke="#111" stroke-width="1.70" stroke-linecap="butt"/>
<line x1="1740.00" y1="1507.71" x2="1768.00" y2="1507.71" stroke="#111" stroke-width="1.70" stroke-linecap="butt"/>
<line x1="1740.00" y1="1520.24" x2="1768.00" y2="1520.24" stroke="#111" stroke-width="1.70" stroke-linecap="butt"/>
<line x1="1837.40" y1="1256.22" x2="1837.40" y2="1298.00" stroke="#111" stroke-width="1.70" stroke-linecap="butt"/>
<line x1="1823.40" y1="1256.22" x2="1851.40" y2="1256.22" stroke="#111" stroke-width="1.70" stroke-linecap="butt"/>
<line x1="1823.40" y1="1298.00" x2="1851.40" y2="1298.00" stroke="#111" stroke-width="1.70" stroke-linecap="butt"/>
<line x1="1976.50" y1="1563.44" x2="1976.50" y2="1576.22" stroke="#111" stroke-width="1.70" stroke-linecap="butt"/>
<line x1="1962.50" y1="1563.44" x2="1990.50" y2="1563.44" stroke="#111" stroke-width="1.70" stroke-linecap="butt"/>
<line x1="1962.50" y1="1576.22" x2="1990.50" y2="1576.22" stroke="#111" stroke-width="1.70" stroke-linecap="butt"/>
<line x1="2059.70" y1="1547.06" x2="2059.70" y2="1569.53" stroke="#111" stroke-width="1.70" stroke-linecap="butt"/>
<line x1="2045.70" y1="1547.06" x2="2073.70" y2="1547.06" stroke="#111" stroke-width="1.70" stroke-linecap="butt"/>
<line x1="2045.70" y1="1569.53" x2="2073.70" y2="1569.53" stroke="#111" stroke-width="1.70" stroke-linecap="butt"/>
<circle cx="1729.70" cy="1509.38" r="3.70" fill="#fff" stroke="#111" stroke-width="1.60"/>
<circle cx="1745.60" cy="1504.37" r="3.70" fill="#fff" stroke="#111" stroke-width="1.60"/>
<circle cx="1761.20" cy="1497.68" r="3.70" fill="#fff" stroke="#111" stroke-width="1.60"/>
<circle cx="1777.20" cy="1507.71" r="3.70" fill="#fff" stroke="#111" stroke-width="1.60"/>
<circle cx="1761.20" cy="1512.72" r="3.70" fill="#fff" stroke="#111" stroke-width="1.60"/>
<circle cx="1745.60" cy="1523.58" r="3.70" fill="#fff" stroke="#111" stroke-width="1.60"/>
<circle cx="1761.20" cy="1521.08" r="3.70" fill="#fff" stroke="#111" stroke-width="1.60"/>
<circle cx="1837.40" cy="1206.09" r="3.70" fill="#fff" stroke="#111" stroke-width="1.60"/>
<circle cx="1837.40" cy="1220.30" r="3.70" fill="#fff" stroke="#111" stroke-width="1.60"/>
<circle cx="1837.40" cy="1242.85" r="3.70" fill="#fff" stroke="#111" stroke-width="1.60"/>
<circle cx="1837.40" cy="1292.98" r="3.70" fill="#fff" stroke="#111" stroke-width="1.60"/>
<circle cx="1837.40" cy="1309.69" r="3.70" fill="#fff" stroke="#111" stroke-width="1.60"/>
<circle cx="1845.70" cy="1330.58" r="3.70" fill="#fff" stroke="#111" stroke-width="1.60"/>
<circle cx="1828.70" cy="1338.10" r="3.70" fill="#fff" stroke="#111" stroke-width="1.60"/>
<circle cx="1952.60" cy="1568.70" r="3.70" fill="#fff" stroke="#111" stroke-width="1.60"/>
<circle cx="1952.60" cy="1577.89" r="3.70" fill="#fff" stroke="#111" stroke-width="1.60"/>
<circle cx="1968.20" cy="1557.00" r="3.70" fill="#fff" stroke="#111" stroke-width="1.60"/>
<circle cx="1968.20" cy="1567.86" r="3.70" fill="#fff" stroke="#111" stroke-width="1.60"/>
<circle cx="1984.20" cy="1552.82" r="3.70" fill="#fff" stroke="#111" stroke-width="1.60"/>
<circle cx="1984.20" cy="1572.04" r="3.70" fill="#fff" stroke="#111" stroke-width="1.60"/>
<circle cx="2000.10" cy="1571.21" r="3.70" fill="#fff" stroke="#111" stroke-width="1.60"/>
<circle cx="2036.10" cy="1563.69" r="3.70" fill="#fff" stroke="#111" stroke-width="1.60"/>
<circle cx="2048.00" cy="1560.34" r="3.70" fill="#fff" stroke="#111" stroke-width="1.60"/>
<circle cx="2059.80" cy="1504.37" r="3.70" fill="#fff" stroke="#111" stroke-width="1.60"/>
<circle cx="2059.80" cy="1565.36" r="3.70" fill="#fff" stroke="#111" stroke-width="1.60"/>
<circle cx="2071.70" cy="1562.85" r="3.70" fill="#fff" stroke="#111" stroke-width="1.60"/>
<circle cx="2083.60" cy="1557.00" r="3.70" fill="#fff" stroke="#111" stroke-width="1.60"/>
<circle cx="2083.60" cy="1571.21" r="3.70" fill="#fff" stroke="#111" stroke-width="1.60"/>
<line x1="1698.10" y1="1176.00" x2="1698.10" y2="1595.45" stroke="#111" stroke-width="1.70" stroke-linecap="butt"/>
<line x1="1681.50" y1="1594.60" x2="1698.10" y2="1594.60" stroke="#111" stroke-width="1.70" stroke-linecap="butt"/>
<text transform="translate(1660.89 1600.94) scale(1 1.0650)" x="0" y="0" font-size="22.71">0</text>
<line x1="1681.50" y1="1511.05" x2="1698.10" y2="1511.05" stroke="#111" stroke-width="1.70" stroke-linecap="butt"/>
<text transform="translate(1661.12 1517.39) scale(1 1.0650)" x="0" y="0" font-size="22.71">1</text>
<line x1="1681.50" y1="1427.50" x2="1698.10" y2="1427.50" stroke="#111" stroke-width="1.70" stroke-linecap="butt"/>
<text transform="translate(1661.12 1433.96) scale(1 1.0650)" x="0" y="0" font-size="22.71">2</text>
<line x1="1681.50" y1="1343.95" x2="1698.10" y2="1343.95" stroke="#111" stroke-width="1.70" stroke-linecap="butt"/>
<text transform="translate(1661.12 1350.29) scale(1 1.0650)" x="0" y="0" font-size="22.71">3</text>
<line x1="1681.50" y1="1260.40" x2="1698.10" y2="1260.40" stroke="#111" stroke-width="1.70" stroke-linecap="butt"/>
<text transform="translate(1660.66 1266.74) scale(1 1.0650)" x="0" y="0" font-size="22.71">4</text>
<line x1="1681.50" y1="1176.85" x2="1698.10" y2="1176.85" stroke="#111" stroke-width="1.70" stroke-linecap="butt"/>
<text transform="translate(1660.89 1183.07) scale(1 1.0650)" x="0" y="0" font-size="22.71">5</text>
<polyline points="1753.40,1114.40 1753.40,1089.60 1976.70,1089.60 1976.70,1116.00" fill="none" stroke="#111" stroke-width="1.70" stroke-linejoin="miter"/>
<text transform="translate(1826.99 1071.10) scale(1 1.0650)" x="0" y="0" font-size="25.15">0.0109</text>
<polyline points="1753.40,1486.00 1753.40,1169.40 1828.70,1169.40 1828.70,1193.50" fill="none" stroke="#111" stroke-width="1.70" stroke-linejoin="miter"/>
<text transform="translate(1746.08 1150.10) scale(1 1.0650)" x="0" y="0" font-size="24.48">&lt;0.0001</text>
<polyline points="1845.00,1194.00 1845.00,1169.40 2059.50,1169.40 2059.50,1386.60" fill="none" stroke="#111" stroke-width="1.70" stroke-linejoin="miter"/>
<text transform="translate(1907.57 1150.10) scale(1 1.0650)" x="0" y="0" font-size="24.56">&lt;0.0001</text>
<polyline points="1976.40,1529.10 1976.40,1448.70 2059.50,1448.70 2059.50,1480.90" fill="none" stroke="#111" stroke-width="1.70" stroke-linejoin="miter"/>
<text transform="translate(1979.79 1429.10) scale(1 1.0650)" x="0" y="0" font-size="25.35">0.9803</text>
<text x="1818.54" y="996.60" font-size="26.43" font-weight="bold">Chronic DSS</text>
<text x="1766.84" y="1027.90" font-size="26.50" font-weight="bold">lipid ROS - fibroblast</text>
<text x="1577.04" y="1034.70" font-size="28.08" font-weight="bold">f.</text>
<text transform="translate(1643.12 1555.61) rotate(-90)" x="0" y="0" font-size="22.67">Fold Change Relative to Control</text>
<text transform="translate(1758.97 1638.70) scale(1 1.0650)" x="0" y="0" font-size="23.00">Vehicle</text>
<text transform="translate(1947.64 1638.70) scale(1 1.0650)" x="0" y="0" font-size="23.21">Liproxstatin-1</text>
<line x1="91.40" y1="2434.80" x2="501.50" y2="2434.80" stroke="#111" stroke-width="1.70" stroke-linecap="butt"/>
<line x1="199.40" y1="2434.80" x2="199.40" y2="2450.20" stroke="#111" stroke-width="1.70" stroke-linecap="butt"/>
<line x1="409.70" y1="2434.80" x2="409.70" y2="2450.20" stroke="#111" stroke-width="1.70" stroke-linecap="butt"/>
<rect x="137.65" y="2232.56" width="45.30" height="202.24" fill="#4a5cab" stroke="#111" stroke-width="1.70"/>
<rect x="216.45" y="2118.47" width="45.30" height="316.33" fill="#ec3326" stroke="#111" stroke-width="1.70"/>
<rect x="348.35" y="2373.32" width="45.30" height="61.48" fill="#4a5cab" stroke="#111" stroke-width="1.70"/>
<rect x="427.45" y="2343.65" width="45.30" height="91.15" fill="#ec3326" stroke="#111" stroke-width="1.70"/>
<line x1="160.30" y1="2212.30" x2="160.30" y2="2245.44" stroke="#111" stroke-width="1.70" stroke-linecap="butt"/>
<line x1="146.80" y1="2212.30" x2="173.80" y2="2212.30" stroke="#111" stroke-width="1.70" stroke-linecap="butt"/>
<line x1="146.80" y1="2245.44" x2="173.80" y2="2245.44" stroke="#111" stroke-width="1.70" stroke-linecap="butt"/>
<line x1="239.10" y1="2106.58" x2="239.10" y2="2123.15" stroke="#111" stroke-width="1.70" stroke-linecap="butt"/>
<line x1="225.60" y1="2106.58" x2="252.60" y2="2106.58" stroke="#111" stroke-width="1.70" stroke-linecap="butt"/>
<line x1="225.60" y1="2123.15" x2="252.60" y2="2123.15" stroke="#111" stroke-width="1.70" stroke-linecap="butt"/>
<line x1="371.00" y1="2357.00" x2="371.00" y2="2382.73" stroke="#111" stroke-width="1.70" stroke-linecap="butt"/>
<line x1="357.50" y1="2357.00" x2="384.50" y2="2357.00" stroke="#111" stroke-width="1.70" stroke-linecap="butt"/>
<line x1="357.50" y1="2382.73" x2="384.50" y2="2382.73" stroke="#111" stroke-width="1.70" stroke-linecap="butt"/>
<line x1="450.10" y1="2332.70" x2="450.10" y2="2348.33" stroke="#111" stroke-width="1.70" stroke-linecap="butt"/>
<line x1="436.60" y1="2332.70" x2="463.60" y2="2332.70" stroke="#111" stroke-width="1.70" stroke-linecap="butt"/>
<line x1="436.60" y1="2348.33" x2="463.60" y2="2348.33" stroke="#111" stroke-width="1.70" stroke-linecap="butt"/>
<circle cx="151.80" cy="2182.32" r="3.60" fill="#fff" stroke="#111" stroke-width="1.50"/>
<circle cx="167.70" cy="2182.32" r="3.60" fill="#fff" stroke="#111" stroke-width="1.50"/>
<circle cx="160.30" cy="2205.60" r="3.60" fill="#fff" stroke="#111" stroke-width="1.50"/>
<circle cx="160.30" cy="2221.77" r="3.60" fill="#fff" stroke="#111" stroke-width="1.50"/>
<circle cx="160.30" cy="2237.55" r="3.60" fill="#fff" stroke="#111" stroke-width="1.50"/>
<circle cx="151.80" cy="2285.44" r="3.60" fill="#fff" stroke="#111" stroke-width="1.50"/>
<circle cx="167.70" cy="2285.44" r="3.60" fill="#fff" stroke="#111" stroke-width="1.50"/>
<circle cx="238.80" cy="2079.75" r="3.60" fill="#fff" stroke="#111" stroke-width="1.50"/>
<circle cx="238.80" cy="2095.53" r="3.60" fill="#fff" stroke="#111" stroke-width="1.50"/>
<circle cx="238.80" cy="2103.42" r="3.60" fill="#fff" stroke="#111" stroke-width="1.50"/>
<circle cx="222.90" cy="2127.09" r="3.60" fill="#fff" stroke="#111" stroke-width="1.50"/>
<circle cx="238.80" cy="2127.09" r="3.60" fill="#fff" stroke="#111" stroke-width="1.50"/>
<circle cx="254.80" cy="2127.09" r="3.60" fill="#fff" stroke="#111" stroke-width="1.50"/>
<circle cx="238.80" cy="2143.19" r="3.60" fill="#fff" stroke="#111" stroke-width="1.50"/>
<circle cx="371.00" cy="2324.50" r="3.60" fill="#fff" stroke="#111" stroke-width="1.50"/>
<circle cx="371.00" cy="2340.51" r="3.60" fill="#fff" stroke="#111" stroke-width="1.50"/>
<circle cx="371.00" cy="2347.77" r="3.60" fill="#fff" stroke="#111" stroke-width="1.50"/>
<circle cx="371.00" cy="2372.47" r="3.60" fill="#fff" stroke="#111" stroke-width="1.50"/>
<circle cx="371.00" cy="2386.91" r="3.60" fill="#fff" stroke="#111" stroke-width="1.50"/>
<circle cx="371.00" cy="2395.59" r="3.60" fill="#fff" stroke="#111" stroke-width="1.50"/>
<circle cx="371.00" cy="2418.86" r="3.60" fill="#fff" stroke="#111" stroke-width="1.50"/>
<circle cx="450.10" cy="2316.69" r="3.60" fill="#fff" stroke="#111" stroke-width="1.50"/>
<circle cx="442.00" cy="2324.50" r="3.60" fill="#fff" stroke="#111" stroke-width="1.50"/>
<circle cx="458.00" cy="2324.50" r="3.60" fill="#fff" stroke="#111" stroke-width="1.50"/>
<circle cx="442.00" cy="2340.51" r="3.60" fill="#fff" stroke="#111" stroke-width="1.50"/>
<circle cx="458.00" cy="2340.51" r="3.60" fill="#fff" stroke="#111" stroke-width="1.50"/>
<circle cx="450.10" cy="2363.71" r="3.60" fill="#fff" stroke="#111" stroke-width="1.50"/>
<circle cx="450.10" cy="2372.47" r="3.60" fill="#fff" stroke="#111" stroke-width="1.50"/>
<line x1="107.40" y1="2039.45" x2="107.40" y2="2435.65" stroke="#111" stroke-width="1.70" stroke-linecap="butt"/>
<line x1="91.40" y1="2434.80" x2="107.40" y2="2434.80" stroke="#111" stroke-width="1.70" stroke-linecap="butt"/>
<text transform="translate(74.25 2441.13) scale(1 1.0650)" x="0" y="0" font-size="25.67">0</text>
<line x1="91.40" y1="2355.90" x2="107.40" y2="2355.90" stroke="#111" stroke-width="1.70" stroke-linecap="butt"/>
<text transform="translate(59.87 2362.23) scale(1 1.0650)" x="0" y="0" font-size="25.67">10</text>
<line x1="91.40" y1="2277.00" x2="107.40" y2="2277.00" stroke="#111" stroke-width="1.70" stroke-linecap="butt"/>
<text transform="translate(59.87 2283.33) scale(1 1.0650)" x="0" y="0" font-size="25.67">20</text>
<line x1="91.40" y1="2198.10" x2="107.40" y2="2198.10" stroke="#111" stroke-width="1.70" stroke-linecap="butt"/>
<text transform="translate(59.87 2204.43) scale(1 1.0650)" x="0" y="0" font-size="25.67">30</text>
<line x1="91.40" y1="2119.20" x2="107.40" y2="2119.20" stroke="#111" stroke-width="1.70" stroke-linecap="butt"/>
<text transform="translate(59.87 2125.53) scale(1 1.0650)" x="0" y="0" font-size="25.67">40</text>
<line x1="91.40" y1="2040.30" x2="107.40" y2="2040.30" stroke="#111" stroke-width="1.70" stroke-linecap="butt"/>
<text transform="translate(59.87 2046.63) scale(1 1.0650)" x="0" y="0" font-size="25.67">50</text>
<polyline points="159.60,1982.40 159.60,1958.00 370.90,1958.00 370.90,1982.40" fill="none" stroke="#111" stroke-width="1.70" stroke-linejoin="miter"/>
<text transform="translate(222.22 1940.60) scale(1 1.0650)" x="0" y="0" font-size="23.55">&lt;0.0001</text>
<polyline points="159.60,2159.10 159.60,2033.50 231.30,2033.50 231.30,2056.70" fill="none" stroke="#111" stroke-width="1.70" stroke-linejoin="miter"/>
<text transform="translate(152.64 2016.00) scale(1 1.0650)" x="0" y="0" font-size="23.30">&lt;0.0001</text>
<polyline points="246.70,2056.70 246.70,2033.50 449.80,2033.50 449.80,2191.00" fill="none" stroke="#111" stroke-width="1.70" stroke-linejoin="miter"/>
<text transform="translate(305.84 2016.00) scale(1 1.0650)" x="0" y="0" font-size="23.21">&lt;0.0001</text>
<polyline points="370.60,2301.30 370.60,2242.40 449.80,2242.40 449.80,2294.10" fill="none" stroke="#111" stroke-width="1.70" stroke-linejoin="miter"/>
<text transform="translate(373.35 2223.80) scale(1 1.0650)" x="0" y="0" font-size="23.77">0.4453</text>
<text x="190.45" y="1838.20" font-size="26.33" font-weight="bold">Chronic DSS</text>
<text x="132.44" y="1869.50" font-size="26.42" font-weight="bold">cell death - epithelium</text>
<text x="1.23" y="1806.50" font-size="26.79" font-weight="bold">g.</text>
<text transform="translate(43.81 2327.27) rotate(-90)" x="0" y="0" font-size="25.43">Cell Death (%)</text>
<text transform="translate(156.44 2481.20) scale(1 1.0650)" x="0" y="0" font-size="25.90">Vehicle</text>
<text transform="translate(326.71 2481.20) scale(1 1.0650)" x="0" y="0" font-size="26.11">Liproxstatin-1</text>
<line x1="639.40" y1="2434.00" x2="1057.90" y2="2434.00" stroke="#111" stroke-width="1.70" stroke-linecap="butt"/>
<line x1="748.80" y1="2434.00" x2="748.80" y2="2450.00" stroke="#111" stroke-width="1.70" stroke-linecap="butt"/>
<line x1="963.80" y1="2434.00" x2="963.80" y2="2450.00" stroke="#111" stroke-width="1.70" stroke-linecap="butt"/>
<rect x="685.45" y="2331.16" width="46.90" height="102.84" fill="#4a5cab" stroke="#111" stroke-width="1.70"/>
<rect x="766.15" y="2282.31" width="46.90" height="151.69" fill="#ec3326" stroke="#111" stroke-width="1.70"/>
<rect x="900.45" y="2319.94" width="46.90" height="114.06" fill="#4a5cab" stroke="#111" stroke-width="1.70"/>
<rect x="981.05" y="2336.07" width="46.90" height="97.93" fill="#ec3326" stroke="#111" stroke-width="1.70"/>
<line x1="708.90" y1="2308.34" x2="708.90" y2="2345.30" stroke="#111" stroke-width="1.70" stroke-linecap="butt"/>
<line x1="695.40" y1="2308.34" x2="722.40" y2="2308.34" stroke="#111" stroke-width="1.70" stroke-linecap="butt"/>
<line x1="695.40" y1="2345.30" x2="722.40" y2="2345.30" stroke="#111" stroke-width="1.70" stroke-linecap="butt"/>
<line x1="789.60" y1="2234.42" x2="789.60" y2="2322.45" stroke="#111" stroke-width="1.70" stroke-linecap="butt"/>
<line x1="776.10" y1="2234.42" x2="803.10" y2="2234.42" stroke="#111" stroke-width="1.70" stroke-linecap="butt"/>
<line x1="776.10" y1="2322.45" x2="803.10" y2="2322.45" stroke="#111" stroke-width="1.70" stroke-linecap="butt"/>
<line x1="923.90" y1="2294.90" x2="923.90" y2="2337.90" stroke="#111" stroke-width="1.70" stroke-linecap="butt"/>
<line x1="910.40" y1="2294.90" x2="937.40" y2="2294.90" stroke="#111" stroke-width="1.70" stroke-linecap="butt"/>
<line x1="910.40" y1="2337.90" x2="937.40" y2="2337.90" stroke="#111" stroke-width="1.70" stroke-linecap="butt"/>
<line x1="1004.50" y1="2313.71" x2="1004.50" y2="2350.00" stroke="#111" stroke-width="1.70" stroke-linecap="butt"/>
<line x1="991.00" y1="2313.71" x2="1018.00" y2="2313.71" stroke="#111" stroke-width="1.70" stroke-linecap="butt"/>
<line x1="991.00" y1="2350.00" x2="1018.00" y2="2350.00" stroke="#111" stroke-width="1.70" stroke-linecap="butt"/>
<circle cx="708.80" cy="2252.56" r="3.60" fill="#fff" stroke="#111" stroke-width="1.50"/>
<circle cx="700.30" cy="2299.60" r="3.60" fill="#fff" stroke="#111" stroke-width="1.50"/>
<circle cx="716.90" cy="2299.60" r="3.60" fill="#fff" stroke="#111" stroke-width="1.50"/>
<circle cx="700.30" cy="2333.20" r="3.60" fill="#fff" stroke="#111" stroke-width="1.50"/>
<circle cx="716.90" cy="2327.15" r="3.60" fill="#fff" stroke="#111" stroke-width="1.50"/>
<circle cx="708.80" cy="2374.19" r="3.60" fill="#fff" stroke="#111" stroke-width="1.50"/>
<circle cx="708.80" cy="2401.07" r="3.60" fill="#fff" stroke="#111" stroke-width="1.50"/>
<circle cx="789.40" cy="2058.35" r="3.60" fill="#fff" stroke="#111" stroke-width="1.50"/>
<circle cx="789.40" cy="2206.19" r="3.60" fill="#fff" stroke="#111" stroke-width="1.50"/>
<circle cx="789.40" cy="2259.95" r="3.60" fill="#fff" stroke="#111" stroke-width="1.50"/>
<circle cx="789.40" cy="2327.15" r="3.60" fill="#fff" stroke="#111" stroke-width="1.50"/>
<circle cx="789.40" cy="2340.59" r="3.60" fill="#fff" stroke="#111" stroke-width="1.50"/>
<circle cx="780.90" cy="2380.91" r="3.60" fill="#fff" stroke="#111" stroke-width="1.50"/>
<circle cx="797.80" cy="2374.19" r="3.60" fill="#fff" stroke="#111" stroke-width="1.50"/>
<circle cx="923.80" cy="2239.12" r="3.60" fill="#fff" stroke="#111" stroke-width="1.50"/>
<circle cx="923.80" cy="2259.95" r="3.60" fill="#fff" stroke="#111" stroke-width="1.50"/>
<circle cx="923.80" cy="2272.72" r="3.60" fill="#fff" stroke="#111" stroke-width="1.50"/>
<circle cx="932.20" cy="2340.59" r="3.60" fill="#fff" stroke="#111" stroke-width="1.50"/>
<circle cx="915.30" cy="2347.31" r="3.60" fill="#fff" stroke="#111" stroke-width="1.50"/>
<circle cx="932.20" cy="2374.19" r="3.60" fill="#fff" stroke="#111" stroke-width="1.50"/>
<circle cx="915.30" cy="2380.91" r="3.60" fill="#fff" stroke="#111" stroke-width="1.50"/>
<circle cx="1004.40" cy="2252.56" r="3.60" fill="#fff" stroke="#111" stroke-width="1.50"/>
<circle cx="1004.40" cy="2280.11" r="3.60" fill="#fff" stroke="#111" stroke-width="1.50"/>
<circle cx="1004.40" cy="2333.20" r="3.60" fill="#fff" stroke="#111" stroke-width="1.50"/>
<circle cx="1004.40" cy="2347.31" r="3.60" fill="#fff" stroke="#111" stroke-width="1.50"/>
<circle cx="1004.40" cy="2360.75" r="3.60" fill="#fff" stroke="#111" stroke-width="1.50"/>
<circle cx="996.30" cy="2374.19" r="3.60" fill="#fff" stroke="#111" stroke-width="1.50"/>
<circle cx="1012.80" cy="2374.19" r="3.60" fill="#fff" stroke="#111" stroke-width="1.50"/>
<line x1="655.00" y1="2029.95" x2="655.00" y2="2434.85" stroke="#111" stroke-width="1.70" stroke-linecap="butt"/>
<line x1="638.80" y1="2434.00" x2="655.00" y2="2434.00" stroke="#111" stroke-width="1.70" stroke-linecap="butt"/>
<text transform="translate(618.29 2441.16) scale(1 1.0650)" x="0" y="0" font-size="28.48">0</text>
<line x1="638.80" y1="2299.60" x2="655.00" y2="2299.60" stroke="#111" stroke-width="1.70" stroke-linecap="butt"/>
<text transform="translate(618.58 2306.92) scale(1 1.0650)" x="0" y="0" font-size="28.48">2</text>
<line x1="638.80" y1="2165.20" x2="655.00" y2="2165.20" stroke="#111" stroke-width="1.70" stroke-linecap="butt"/>
<text transform="translate(618.01 2172.36) scale(1 1.0650)" x="0" y="0" font-size="28.48">4</text>
<line x1="638.80" y1="2030.80" x2="655.00" y2="2030.80" stroke="#111" stroke-width="1.70" stroke-linecap="butt"/>
<text transform="translate(618.58 2037.96) scale(1 1.0650)" x="0" y="0" font-size="28.48">6</text>
<polyline points="708.10,1958.40 708.10,1934.00 923.80,1934.00 923.80,1958.40" fill="none" stroke="#111" stroke-width="1.70" stroke-linejoin="miter"/>
<text transform="translate(770.97 1916.10) scale(1 1.0650)" x="0" y="0" font-size="24.65">&gt;0.9999</text>
<polyline points="708.10,2228.80 708.10,2010.60 780.90,2010.60 780.90,2034.00" fill="none" stroke="#111" stroke-width="1.70" stroke-linejoin="miter"/>
<text transform="translate(707.82 1992.70) scale(1 1.0650)" x="0" y="0" font-size="24.43">0.7780</text>
<polyline points="797.20,2034.00 797.20,2010.60 1004.40,2010.60 1004.40,2089.40" fill="none" stroke="#111" stroke-width="1.70" stroke-linejoin="miter"/>
<text transform="translate(864.03 1992.70) scale(1 1.0650)" x="0" y="0" font-size="24.21">0.6986</text>
<polyline points="923.80,2216.90 923.80,2141.90 1004.40,2141.90 1004.40,2228.80" fill="none" stroke="#111" stroke-width="1.70" stroke-linejoin="miter"/>
<text transform="translate(927.43 2123.80) scale(1 1.0650)" x="0" y="0" font-size="24.21">0.9992</text>
<text x="754.55" y="1837.80" font-size="26.33" font-weight="bold">Chronic DSS</text>
<text x="702.35" y="1869.40" font-size="26.35" font-weight="bold">cell death - fibroblast</text>
<text x="489.95" y="1810.00" font-size="27.87" font-weight="bold">h.</text>
<text transform="translate(601.59 2325.98) rotate(-90)" x="0" y="0" font-size="25.68">Cell Death (%)</text>
<text transform="translate(704.14 2481.00) scale(1 1.0650)" x="0" y="0" font-size="26.31">Vehicle</text>
<text transform="translate(879.12 2482.90) scale(1 1.0650)" x="0" y="0" font-size="26.00">Liproxstatin-1</text>
<rect x="668.20" y="1678.20" width="41.50" height="37.30" fill="#4a5cab" stroke="#231f20" stroke-width="3.00"/>
<text x="720.56" y="1709.40" font-size="26.73">LSL-<tspan font-style="italic">Acsl4</tspan></text>
<rect x="1047.40" y="1678.20" width="41.50" height="37.30" fill="#ec3326" stroke="#231f20" stroke-width="3.00"/>
<text x="1097.97" y="1709.40" font-size="26.66">PdgfrαERT2; LSL-<tspan font-style="italic">Acsl4</tspan></text>
<rect x="1202.40" y="2022.30" width="41.20" height="37.10" fill="#4a5cab" stroke="#231f20" stroke-width="3.00"/>
<text x="1253.93" y="2053.60" font-size="27.14">LSL-<tspan font-style="italic">Acsl4</tspan></text>
<rect x="1201.40" y="2112.60" width="40.80" height="37.20" fill="#ec3326" stroke="#231f20" stroke-width="3.00"/>
<text x="1257.37" y="2142.30" font-size="26.62">PdgfrαERT2; LSL-<tspan font-style="italic">Acsl4</tspan></text>
<defs><filter id="tex" x="-100" y="-100" width="2000" height="2000" filterUnits="userSpaceOnUse" color-interpolation-filters="sRGB"><feTurbulence type="fractalNoise" baseFrequency="0.055" numOctaves="1" seed="7" result="n"/><feColorMatrix in="n" type="matrix" values="0 0 0 0 0.45  0 0 0 0 0.36  0 0 0 0 0.58  -40 0 0 0 13.0" result="dots"/><feColorMatrix in="SourceGraphic" type="matrix" values="0 0 0 0 0  0 0 0 0 0  0 0 0 0 0  40 -40 0 0 -0.25" result="m"/><feComposite in="dots" in2="m" operator="in" result="d3"/><feMerge><feMergeNode in="SourceGraphic"/><feMergeNode in="d3"/></feMerge></filter><filter id="dots2" x="-100" y="-100" width="2000" height="2000" filterUnits="userSpaceOnUse" color-interpolation-filters="sRGB"><feTurbulence type="fractalNoise" baseFrequency="0.065" numOctaves="1" seed="3" result="n"/><feColorMatrix in="n" type="matrix" values="0 0 0 0 0.43  0 0 0 0 0.34  0 0 0 0 0.57  -36 0 0 0 12.6" result="d"/><feComposite in="d" in2="SourceAlpha" operator="in"/></filter></defs>
<clipPath id="ctl"><rect x="32.3" y="32.3" width="1728.4" height="1724.6"/></clipPath>
<g transform="translate(1420 130) scale(0.207589)"><g clip-path="url(#ctl)" filter="url(#tex)">
<rect x="0" y="0" width="1792" height="1792" fill="#f7f6f7"/>
<path d="M0,1040 C50.0,939.2 200.0,1021.7 300,1020 C400.0,1018.3 500.0,1021.7 600,1030 C700.0,1038.3 816.7,1053.3 900,1070 C983.3,1086.7 1025.0,1110.0 1100,1130 C1175.0,1150.0 1266.7,1168.3 1350,1190 C1433.3,1211.7 1525.0,1241.7 1600,1260 C1675.0,1278.3 1766.7,1210.0 1800,1300 C1833.3,1390.0 1908.3,1716.7 1800,1800 C1691.7,1883.3 1263.3,1820.0 1150,1800 C1036.7,1780.0 1140.0,1716.7 1120,1680 C1100.0,1643.3 1075.0,1602.5 1030,1580 C985.0,1557.5 921.7,1549.2 850,1545 C778.3,1540.8 683.3,1547.5 600,1555 C516.7,1562.5 425.0,1580.0 350,1590 C275.0,1600.0 208.3,1609.2 150,1615 C91.7,1620.8 25.0,1720.8 0,1625 C-25.0,1529.2 -50.0,1140.8 0,1040Z" fill="#e8cee5"/>
<path d="M0,1615 C200,1605 400,1570 600,1555 C800,1540 950,1560 1050,1600 C1110,1640 1140,1700 1150,1800" fill="none" stroke="#dcbcd8" stroke-width="30"/>
<path d="M0,1000 C66.7,991.7 266.7,985.0 400,985 C533.3,985.0 683.3,990.0 800,1000 C916.7,1010.0 983.3,1025.8 1100,1045 C1216.7,1064.2 1383.3,1102.5 1500,1115 C1616.7,1127.5 1750.0,1089.2 1800,1120 C1850.0,1150.8 1833.3,1277.5 1800,1300 C1766.7,1322.5 1675.0,1274.2 1600,1255 C1525.0,1235.8 1433.3,1206.7 1350,1185 C1266.7,1163.3 1175.0,1145.0 1100,1125 C1025.0,1105.0 983.3,1081.2 900,1065 C816.7,1048.8 700.0,1035.8 600,1028 C500.0,1020.2 400.0,1016.8 300,1018 C200.0,1019.2 50.0,1038.0 0,1035 C-50.0,1032.0 -66.7,1008.3 0,1000Z" fill="#f1eaf1"/>
<path d="M0,915 C66.7,899.2 266.7,897.5 400,900 C533.3,902.5 683.3,920.0 800,930 C916.7,940.0 1000.0,941.7 1100,960 C1200.0,978.3 1283.3,1023.3 1400,1040 C1516.7,1056.7 1733.3,1047.5 1800,1060 C1866.7,1072.5 1850.0,1106.7 1800,1115 C1750.0,1123.3 1616.7,1122.5 1500,1110 C1383.3,1097.5 1216.7,1059.2 1100,1040 C983.3,1020.8 916.7,1004.2 800,995 C683.3,985.8 533.3,985.0 400,985 C266.7,985.0 66.7,1006.7 0,995 C-66.7,983.3 -66.7,930.8 0,915Z" fill="#dac4dc"/>
<polygon points="0,250 120,262 200,300 270,380 305,430 345,395 360,300 400,230 440,150 500,90 580,62 680,72 770,98 800,150 785,200 830,250 870,320 905,350 925,290 930,200 950,128 1000,112 1060,160 1090,225 1110,160 1150,142 1200,188 1230,260 1300,330 1360,388 1430,413 1500,420 1545,388 1545,300 1590,258 1670,248 1720,288 1800,300 1800,1070 1700,1090 1500,1085 1400,1045 1300,1000 1150,960 1000,955 800,935 600,905 400,905 200,912 0,922" fill="#d4c6e1"/>
<rect x="40" y="290" width="130" height="610" rx="65" fill="#a48dc3"/>
<rect x="90" y="340" width="30" height="510" rx="15" fill="#c4b3d8"/>
<rect x="150" y="320" width="245" height="585" rx="122.5" fill="#a48dc3"/>
<rect x="240" y="410" width="65" height="405" rx="32.5" fill="#c4b3d8"/>
<rect x="410" y="250" width="290" height="625" rx="145" fill="#a48dc3"/>
<rect x="505" y="345" width="100" height="435" rx="50" fill="#c4b3d8"/>
<rect x="800" y="420" width="250" height="535" rx="125" fill="#a48dc3"/>
<rect x="885" y="505" width="80" height="365" rx="40" fill="#c4b3d8"/>
<rect x="1150" y="470" width="205" height="455" rx="102.5" fill="#a48dc3"/>
<rect x="1225" y="545" width="55" height="305" rx="27.5" fill="#c4b3d8"/>
<rect x="1365" y="425" width="270" height="660" rx="135" fill="#a48dc3"/>
<rect x="1460" y="520" width="80" height="470" rx="40" fill="#c4b3d8"/>
<rect x="1635" y="320" width="165" height="685" rx="82.5" fill="#a48dc3"/>
<rect x="1695" y="380" width="45" height="565" rx="22.5" fill="#c4b3d8"/>
<ellipse cx="600" cy="790" rx="40" ry="40" fill="#f3eff5"/>
<ellipse cx="930" cy="760" rx="60" ry="100" fill="#f3eff5"/>
<ellipse cx="1250" cy="660" rx="50" ry="70" fill="#f3eff5"/>
<ellipse cx="1710" cy="650" rx="40" ry="100" fill="#f3eff5"/>
<ellipse cx="400" cy="620" rx="35" ry="100" fill="#f3eff5"/>
<ellipse cx="1110" cy="520" rx="35" ry="140" fill="#f3eff5"/>
<ellipse cx="640" cy="380" rx="22" ry="80" fill="#f3eff5"/>
<ellipse cx="960" cy="540" rx="25" ry="50" fill="#f3eff5"/>
<ellipse cx="70" cy="820" rx="28" ry="55" fill="#f3eff5"/>
<ellipse cx="250" cy="720" rx="25" ry="50" fill="#f3eff5"/>
<ellipse cx="1530" cy="1000" rx="30" ry="30" fill="#f3eff5"/>
<ellipse cx="1690" cy="860" rx="22" ry="26" fill="#f3eff5"/>
<ellipse cx="850" cy="690" rx="35" ry="35" fill="#f3eff5"/>
<rect x="700" y="250" width="80" height="680" rx="20" fill="#e4dbea"/>
<rect x="1060" y="280" width="70" height="680" rx="20" fill="#e4dbea"/>
<rect x="395" y="420" width="35" height="460" rx="20" fill="#e4dbea"/>
<rect x="1350" y="600" width="30" height="400" rx="20" fill="#e4dbea"/>
<path d="M480,1800 C560,1720 700,1690 820,1700 C920,1710 980,1750 1010,1800 Z" fill="#ece0ee"/>
<rect x="40" y="290" width="130" height="610" rx="65" fill="#000" filter="url(#dots2)"/>
<rect x="150" y="320" width="245" height="585" rx="122.5" fill="#000" filter="url(#dots2)"/>
<rect x="410" y="250" width="290" height="625" rx="145" fill="#000" filter="url(#dots2)"/>
<rect x="800" y="420" width="250" height="535" rx="125" fill="#000" filter="url(#dots2)"/>
<rect x="1150" y="470" width="205" height="455" rx="102.5" fill="#000" filter="url(#dots2)"/>
<rect x="1365" y="425" width="270" height="660" rx="135" fill="#000" filter="url(#dots2)"/>
<rect x="1635" y="320" width="165" height="685" rx="82.5" fill="#000" filter="url(#dots2)"/>
</g></g>
<clipPath id="ctr"><rect x="29.9" y="32.3" width="1724.6" height="1724.6"/></clipPath>
<g transform="translate(1792 130) scale(0.207589)"><g clip-path="url(#ctr)" filter="url(#tex)">
<rect x="0" y="0" width="1792" height="1792" fill="#f7f6f7"/>
<rect x="0" y="560" width="1800" height="650" fill="#f7f4f7"/>
<path d="M0,1575 C100.0,1559.2 400.0,1582.5 600,1585 C800.0,1587.5 1000.0,1590.8 1200,1590 C1400.0,1589.2 1700.0,1563.3 1800,1580 C1900.0,1596.7 1816.7,1669.2 1800,1690 C1783.3,1710.8 1733.3,1705.8 1700,1705 C1666.7,1704.2 1633.3,1685.0 1600,1685 C1566.7,1685.0 1533.3,1704.2 1500,1705 C1466.7,1705.8 1433.3,1690.0 1400,1690 C1366.7,1690.0 1333.3,1705.0 1300,1705 C1266.7,1705.0 1241.7,1688.3 1200,1690 C1158.3,1691.7 1086.7,1703.3 1050,1715 C1013.3,1726.7 1005.0,1747.5 980,1760 C955.0,1772.5 963.3,1785.0 900,1790 C836.7,1795.0 693.3,1790.0 600,1790 C506.7,1790.0 385.8,1811.7 340,1790 C294.2,1768.3 340.0,1687.5 325,1660 C310.0,1632.5 279.2,1630.0 250,1625 C220.8,1620.0 181.7,1624.2 150,1630 C118.3,1635.8 85.0,1651.7 60,1660 C35.0,1668.3 10.0,1694.2 0,1680 C-10.0,1665.8 -100.0,1590.8 0,1575Z" fill="#ebdfed"/>
<path d="M0,1050 C50.0,983.3 200.0,1075.0 300,1090 C400.0,1105.0 500.0,1125.8 600,1140 C700.0,1154.2 800.0,1170.8 900,1175 C1000.0,1179.2 1100.0,1169.2 1200,1165 C1300.0,1160.8 1400.0,1155.0 1500,1150 C1600.0,1145.0 1750.0,1070.0 1800,1135 C1850.0,1200.0 1850.0,1471.7 1800,1540 C1750.0,1608.3 1633.3,1546.7 1500,1545 C1366.7,1543.3 1166.7,1535.8 1000,1530 C833.3,1524.2 666.7,1516.7 500,1510 C333.3,1503.3 83.3,1566.7 0,1490 C-83.3,1413.3 -50.0,1116.7 0,1050Z" fill="#e9d6e7"/>
<path d="M0,1450 C400,1480 800,1515 1200,1525 C1500,1530 1700,1525 1800,1520" fill="none" stroke="#e0c3dd" stroke-width="50"/>
<path d="M0,520 C50.0,504.2 200.0,548.3 300,555 C400.0,561.7 500.0,562.5 600,560 C700.0,557.5 800.0,546.7 900,540 C1000.0,533.3 1100.0,525.8 1200,520 C1300.0,514.2 1400.0,509.2 1500,505 C1600.0,500.8 1750.0,477.5 1800,495 C1850.0,512.5 1850.0,590.8 1800,610 C1750.0,629.2 1600.0,607.5 1500,610 C1400.0,612.5 1300.0,621.7 1200,625 C1100.0,628.3 1000.0,625.8 900,630 C800.0,634.2 700.0,645.0 600,650 C500.0,655.0 400.0,660.0 300,660 C200.0,660.0 50.0,673.3 0,650 C-50.0,626.7 -50.0,535.8 0,520Z" fill="#dec9df"/>
<polygon points="0,65 300,95 500,120 800,128 1000,118 1300,98 1500,78 1800,55 1800,505 1500,515 1200,530 900,550 600,570 300,565 0,545" fill="#d2c3e0"/>
<polygon points="0,65 300,95 500,120 800,128 1000,118 1300,98 1500,78 1800,55 1800,505 1500,515 1200,530 900,550 600,570 300,565 0,545" fill="#000" filter="url(#dots2)"/>
<ellipse cx="880" cy="340" rx="60" ry="150" fill="#e6ddec"/>
<ellipse cx="1470" cy="380" rx="40" ry="90" fill="#e6ddec"/>
<ellipse cx="420" cy="450" rx="60" ry="40" fill="#e6ddec"/>
<ellipse cx="760" cy="520" rx="80" ry="30" fill="#e6ddec"/>
<ellipse cx="1250" cy="560" rx="50" ry="60" fill="#e6ddec"/>
<ellipse cx="470" cy="620" rx="50" ry="50" fill="#e6ddec"/>
<ellipse cx="120" cy="720" rx="90" ry="110" fill="#f9f8f9"/>
</g></g>
<clipPath id="cbl"><rect x="32.3" y="37.6" width="1728.4" height="1724.6"/></clipPath>
<g transform="translate(1420 499) scale(0.207589)"><g clip-path="url(#cbl)" filter="url(#tex)">
<rect x="0" y="0" width="1792" height="1792" fill="#f7f6f7"/>
<polygon points="480,1830 800,1590 1100,1430 1400,1350 1800,1290 1800,1830" fill="#f5f2f5"/>
<circle cx="1500" cy="1450" r="70" fill="#faf8fa" stroke="#e4d6e6" stroke-width="6"/>
<circle cx="1650" cy="1520" r="60" fill="#faf8fa" stroke="#e4d6e6" stroke-width="6"/>
<circle cx="1350" cy="1560" r="80" fill="#faf8fa" stroke="#e4d6e6" stroke-width="6"/>
<circle cx="1200" cy="1650" r="70" fill="#faf8fa" stroke="#e4d6e6" stroke-width="6"/>
<circle cx="1550" cy="1650" r="75" fill="#faf8fa" stroke="#e4d6e6" stroke-width="6"/>
<circle cx="1000" cy="1700" r="60" fill="#faf8fa" stroke="#e4d6e6" stroke-width="6"/>
<circle cx="1700" cy="1700" r="60" fill="#faf8fa" stroke="#e4d6e6" stroke-width="6"/>
<circle cx="1400" cy="1720" r="60" fill="#faf8fa" stroke="#e4d6e6" stroke-width="6"/>
<circle cx="800" cy="1750" r="50" fill="#faf8fa" stroke="#e4d6e6" stroke-width="6"/>
<polygon points="0,1830 200,1700 400,1530 600,1385 800,1275 1000,1205 1200,1155 1500,1112 1800,1080 1800,1150 1500,1182 1200,1225 1000,1275 800,1350 600,1470 450,1580 300,1690 100,1830" fill="#dec2dc"/>
<polygon points="0,1620 200,1430 400,1245 600,1085 800,995 1000,935 1200,895 1500,852 1800,830 1800,1080 1500,1112 1200,1155 1000,1205 800,1275 600,1385 400,1530 200,1700 0,1830" fill="#e8cde5"/>
<polygon points="0,1290 200,1100 400,940 600,810 800,700 1000,620 1200,565 1500,525 1800,512 1800,830 1500,852 1200,895 1000,935 800,995 600,1085 400,1245 200,1430 0,1620" fill="#f5f2f5"/>
<path d="M1380,640 C1500,600 1650,600 1800,640 L1800,700 C1650,700 1500,720 1400,700 Z" fill="#dccbe2"/>
<polygon points="0,1150 200,985 400,825 600,705 800,605 1000,535 1200,492 1500,462 1800,450 1800,512 1500,525 1200,565 1000,620 800,700 600,810 400,940 200,1100 0,1290" fill="#dcc0dc"/>
<polygon points="0,640 150,560 300,480 450,400 600,330 800,262 1000,172 1200,130 1400,120 1600,110 1800,108 1800,450 1500,462 1200,492 1000,535 800,605 600,705 400,825 200,985 0,1150" fill="#d6c8e3"/>
<polygon points="0,640 150,560 300,480 450,400 600,330 800,262 1000,172 1200,130 1400,120 1600,110 1800,108 1800,450 1500,462 1200,492 1000,535 800,605 600,705 400,825 200,985 0,1150" fill="#000" filter="url(#dots2)"/>
<path d="M0,640 C300,480 600,330 800,262 C1000,172 1200,130 1400,120 L1800,108" fill="none" stroke="#b8a2d0" stroke-width="45"/>
<ellipse cx="80" cy="760" rx="45" ry="90" transform="rotate(30 80 760)" fill="#e6def0" stroke="#9880bc" stroke-width="16" stroke-dasharray="10 6"/>
<ellipse cx="250" cy="680" rx="60" ry="110" transform="rotate(30 250 680)" fill="#e6def0" stroke="#9880bc" stroke-width="16" stroke-dasharray="10 6"/>
<ellipse cx="410" cy="650" rx="55" ry="100" transform="rotate(20 410 650)" fill="#e6def0" stroke="#9880bc" stroke-width="16" stroke-dasharray="10 6"/>
<ellipse cx="260" cy="800" rx="50" ry="70" transform="rotate(30 260 800)" fill="#e6def0" stroke="#9880bc" stroke-width="16" stroke-dasharray="10 6"/>
<ellipse cx="600" cy="550" rx="60" ry="100" transform="rotate(15 600 550)" fill="#e6def0" stroke="#9880bc" stroke-width="16" stroke-dasharray="10 6"/>
<ellipse cx="700" cy="420" rx="55" ry="100" transform="rotate(10 700 420)" fill="#e6def0" stroke="#9880bc" stroke-width="16" stroke-dasharray="10 6"/>
<ellipse cx="900" cy="410" rx="55" ry="100" transform="rotate(5 900 410)" fill="#e6def0" stroke="#9880bc" stroke-width="16" stroke-dasharray="10 6"/>
<ellipse cx="980" cy="330" rx="50" ry="95" transform="rotate(5 980 330)" fill="#e6def0" stroke="#9880bc" stroke-width="16" stroke-dasharray="10 6"/>
<ellipse cx="1100" cy="360" rx="50" ry="90" transform="rotate(0 1100 360)" fill="#e6def0" stroke="#9880bc" stroke-width="16" stroke-dasharray="10 6"/>
<ellipse cx="1250" cy="340" rx="55" ry="90" transform="rotate(0 1250 340)" fill="#e6def0" stroke="#9880bc" stroke-width="16" stroke-dasharray="10 6"/>
<ellipse cx="1580" cy="320" rx="55" ry="110" transform="rotate(0 1580 320)" fill="#e6def0" stroke="#9880bc" stroke-width="16" stroke-dasharray="10 6"/>
<ellipse cx="1720" cy="300" rx="40" ry="110" transform="rotate(0 1720 300)" fill="#e6def0" stroke="#9880bc" stroke-width="16" stroke-dasharray="10 6"/>
<ellipse cx="450" cy="500" rx="45" ry="80" transform="rotate(25 450 500)" fill="#e6def0" stroke="#9880bc" stroke-width="16" stroke-dasharray="10 6"/>
<ellipse cx="80" cy="960" rx="40" ry="60" transform="rotate(30 80 960)" fill="#e6def0" stroke="#9880bc" stroke-width="16" stroke-dasharray="10 6"/>
<ellipse cx="530" cy="660" rx="35" ry="40" transform="rotate(0 530 660)" fill="#e6def0" stroke="#9880bc" stroke-width="16" stroke-dasharray="10 6"/>
</g></g>
<clipPath id="cbr"><rect x="32.3" y="37.6" width="1727.4" height="1724.6"/></clipPath>
<g transform="translate(1792 499) scale(0.207589)"><g clip-path="url(#cbr)" filter="url(#tex)">
<rect x="0" y="0" width="1792" height="1792" fill="#f7f6f7"/>
<path d="M0,985 C66.7,957.5 283.3,972.5 400,975 C516.7,977.5 600.0,992.5 700,1000 C800.0,1007.5 900.0,1013.3 1000,1020 C1100.0,1026.7 1166.7,1038.3 1300,1040 C1433.3,1041.7 1716.7,1004.2 1800,1030 C1883.3,1055.8 1850.0,1166.7 1800,1195 C1750.0,1223.3 1600.0,1201.7 1500,1200 C1400.0,1198.3 1300.0,1190.8 1200,1185 C1100.0,1179.2 1016.7,1171.7 900,1165 C783.3,1158.3 650.0,1149.2 500,1145 C350.0,1140.8 83.3,1166.7 0,1140 C-83.3,1113.3 -66.7,1012.5 0,985Z" fill="#e8d4e6"/>
<path d="M0,1130 C400,1140 800,1150 1000,1170 C1200,1190 1500,1200 1800,1190" fill="none" stroke="#ddbfda" stroke-width="22"/>
<path d="M0,880 C50.0,859.2 200.0,865.0 300,860 C400.0,855.0 500.0,846.7 600,850 C700.0,853.3 816.7,866.7 900,880 C983.3,893.3 1033.3,916.7 1100,930 C1166.7,943.3 1233.3,952.5 1300,960 C1366.7,967.5 1416.7,975.8 1500,975 C1583.3,974.2 1750.0,945.0 1800,955 C1850.0,965.0 1883.3,1020.0 1800,1035 C1716.7,1050.0 1433.3,1047.5 1300,1045 C1166.7,1042.5 1100.0,1028.3 1000,1020 C900.0,1011.7 800.0,1003.3 700,995 C600.0,986.7 516.7,971.7 400,970 C283.3,968.3 66.7,1000.0 0,985 C-66.7,970.0 -50.0,900.8 0,880Z" fill="#f2eaf2"/>
<path d="M0,930 C300,880 500,850 650,870 C900,900 1100,970 1300,1000 C1500,1020 1700,1010 1800,1000" fill="none" stroke="#dfc8df" stroke-width="22"/>
<polygon points="0,262 100,240 200,252 300,230 350,150 420,140 500,182 560,250 600,192 700,180 800,212 900,190 950,200 1000,250 1100,262 1150,240 1250,262 1300,252 1380,282 1500,272 1600,262 1700,250 1800,260 1800,960 1500,975 1300,965 1100,935 900,885 600,865 300,885 0,905" fill="#d9cce5"/>
<polygon points="0,262 100,240 200,252 300,230 350,150 420,140 500,182 560,250 600,192 700,180 800,212 900,190 950,200 1000,250 1100,262 1150,240 1250,262 1300,252 1380,282 1500,272 1600,262 1700,250 1800,260 1800,960 1500,975 1300,965 1100,935 900,885 600,865 300,885 0,905" fill="#000" filter="url(#dots2)"/>
<rect x="60" y="300" width="180" height="580" rx="90" fill="#a089c2"/>
<rect x="82" y="322" width="136" height="536" rx="68" fill="#ebe5ef"/>
<rect x="240" y="600" width="100" height="230" rx="50" fill="#a089c2"/>
<rect x="262" y="622" width="56" height="186" rx="28" fill="#ebe5ef"/>
<rect x="280" y="280" width="150" height="490" rx="75" fill="#a089c2"/>
<rect x="302" y="302" width="106" height="446" rx="53" fill="#ebe5ef"/>
<rect x="420" y="280" width="110" height="470" rx="55" fill="#a089c2"/>
<rect x="442" y="302" width="66" height="426" rx="33" fill="#ebe5ef"/>
<rect x="590" y="250" width="120" height="430" rx="60" fill="#a089c2"/>
<rect x="612" y="272" width="76" height="386" rx="38" fill="#ebe5ef"/>
<rect x="690" y="300" width="140" height="390" rx="70" fill="#a089c2"/>
<rect x="712" y="322" width="96" height="346" rx="48" fill="#ebe5ef"/>
<rect x="870" y="560" width="150" height="260" rx="75" fill="#a089c2"/>
<rect x="892" y="582" width="106" height="216" rx="53" fill="#ebe5ef"/>
<rect x="1040" y="470" width="160" height="410" rx="80" fill="#a089c2"/>
<rect x="1062" y="492" width="116" height="366" rx="58" fill="#ebe5ef"/>
<rect x="1180" y="760" width="120" height="210" rx="60" fill="#a089c2"/>
<rect x="1202" y="782" width="76" height="166" rx="38" fill="#ebe5ef"/>
<rect x="1380" y="690" width="140" height="270" rx="70" fill="#a089c2"/>
<rect x="1402" y="712" width="96" height="226" rx="48" fill="#ebe5ef"/>
<rect x="1610" y="600" width="170" height="320" rx="85" fill="#a089c2"/>
<rect x="1632" y="622" width="126" height="276" rx="63" fill="#ebe5ef"/>
<rect x="1500" y="420" width="120" height="400" rx="60" fill="#a089c2"/>
<rect x="1522" y="442" width="76" height="356" rx="38" fill="#ebe5ef"/>
<rect x="1220" y="300" width="140" height="460" rx="70" fill="#a089c2"/>
<rect x="1242" y="322" width="96" height="416" rx="48" fill="#ebe5ef"/>
<path d="M1600,1800 C1568.3,1776.7 1600.0,1694.2 1610,1660 C1620.0,1625.8 1641.7,1610.0 1660,1595 C1678.3,1580.0 1696.7,1576.7 1720,1570 C1743.3,1563.3 1786.7,1516.7 1800,1555 C1813.3,1593.3 1833.3,1759.2 1800,1800 C1766.7,1840.8 1631.7,1823.3 1600,1800Z" fill="#cdb9da"/>
</g></g>
<rect x="1428.00" y="138.00" width="356.20" height="355.40" fill="none" stroke="#fff" stroke-width="1.6"/>
<rect x="1425.45" y="135.45" width="361.30" height="360.50" fill="none" stroke="#0a0a0a" stroke-width="3.50"/>
<rect x="1799.50" y="138.00" width="355.40" height="355.40" fill="none" stroke="#fff" stroke-width="1.6"/>
<rect x="1796.95" y="135.45" width="360.50" height="360.50" fill="none" stroke="#0a0a0a" stroke-width="3.50"/>
<rect x="1428.00" y="508.10" width="356.20" height="355.40" fill="none" stroke="#fff" stroke-width="1.6"/>
<rect x="1425.45" y="505.55" width="361.30" height="360.50" fill="none" stroke="#0a0a0a" stroke-width="3.50"/>
<rect x="1800.00" y="508.10" width="356.00" height="355.40" fill="none" stroke="#fff" stroke-width="1.6"/>
<rect x="1797.45" y="505.55" width="361.10" height="360.50" fill="none" stroke="#0a0a0a" stroke-width="3.50"/>
<line x1="1430.00" y1="157.60" x2="1481.90" y2="157.60" stroke="#111" stroke-width="2.90" stroke-linecap="butt"/>
<text x="1445.23" y="152.80" font-size="15.35">20x</text>
<text x="1433.28" y="175.00" font-size="15.26">100µm</text>
<line x1="1800.30" y1="157.60" x2="1852.80" y2="157.60" stroke="#111" stroke-width="2.90" stroke-linecap="butt"/>
<text x="1815.72" y="152.80" font-size="15.68">20x</text>
<text x="1804.90" y="175.00" font-size="15.02">100µm</text>
<text x="1445.23" y="521.80" font-size="15.35">20x</text>
<text x="1433.28" y="544.00" font-size="15.26">100µm</text>
<line x1="1802.00" y1="527.60" x2="1853.90" y2="527.60" stroke="#111" stroke-width="2.90" stroke-linecap="butt"/>
<text x="1817.23" y="521.80" font-size="15.35">20x</text>
<text x="1805.28" y="544.00" font-size="15.26">100µm</text>
<text x="1324.57" y="20.30" font-size="29.07" font-weight="bold">b.</text>
<text x="1732.45" y="48.40" font-size="26.29" font-weight="bold">Chronic DSS</text>
<text x="1563.25" y="123.50" font-size="26.94">LSL-<tspan font-style="italic">Acsl4</tspan></text>
<text x="1845.18" y="123.50" font-size="26.53">PdgfrαERT2; LSL-<tspan font-style="italic">Acsl4</tspan></text>
<text transform="translate(1412.01 348.96) rotate(-90)" x="0" y="0" font-size="26.40">Vehicle</text>
<text transform="translate(1411.43 765.05) rotate(-90)" x="0" y="0" font-size="25.60">Liproxstatin-1</text>
</svg>
</body></html>
